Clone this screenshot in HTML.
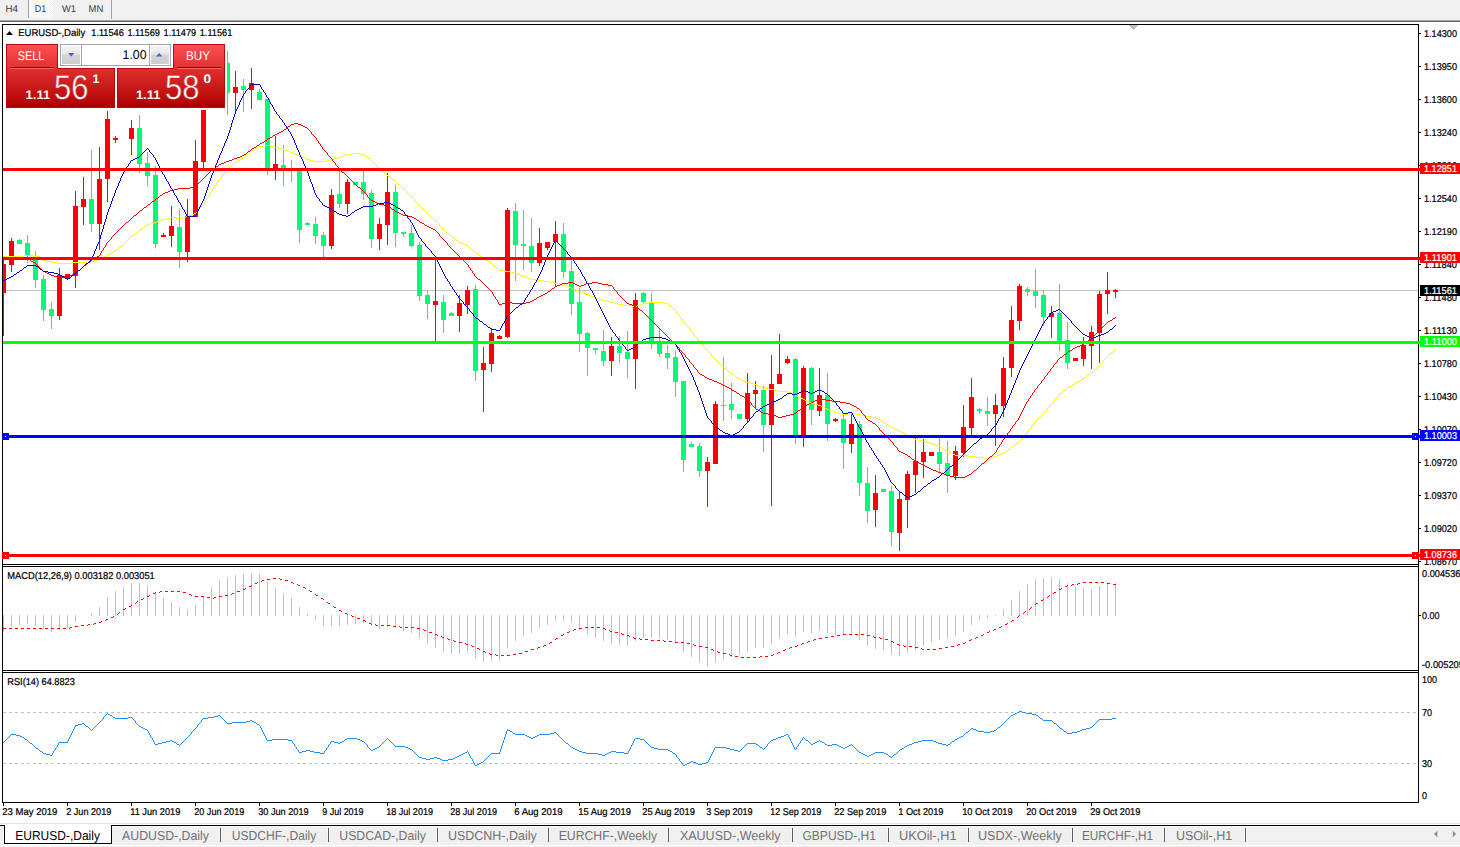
<!DOCTYPE html>
<html><head><meta charset="utf-8"><title>EURUSD-,Daily</title>
<style>html,body{margin:0;padding:0;background:#fff;width:1460px;height:847px;overflow:hidden}svg text{white-space:pre;text-rendering:geometricPrecision}</style></head>
<body>
<svg width="1460" height="847" viewBox="0 0 1460 847" font-family="Liberation Sans, sans-serif" style="display:block">
<defs>
<linearGradient id="gTop" x1="0" y1="0" x2="0" y2="1"><stop offset="0" stop-color="#fb5050"/><stop offset="1" stop-color="#e13030"/></linearGradient>
<linearGradient id="gBot" gradientUnits="userSpaceOnUse" x1="0" y1="69" x2="0" y2="107"><stop offset="0" stop-color="#df2e2e"/><stop offset="0.85" stop-color="#b80808"/><stop offset="1" stop-color="#a80000"/></linearGradient>
<linearGradient id="gBtn" x1="0" y1="0" x2="0" y2="1"><stop offset="0" stop-color="#f4f4f4"/><stop offset="0.45" stop-color="#e6e6e6"/><stop offset="0.5" stop-color="#d4d4d4"/><stop offset="1" stop-color="#cdcdcd"/></linearGradient>
<pattern id="chk" width="2" height="2" patternUnits="userSpaceOnUse"><rect width="2" height="2" fill="#fff"/><rect width="1" height="1" fill="#f0f0f0"/><rect x="1" y="1" width="1" height="1" fill="#f0f0f0"/></pattern>
</defs>
<rect x="0" y="0" width="1460" height="847" fill="#fff" />
<rect x="0" y="0" width="1460" height="19" fill="#f0f0f0" />
<rect x="0" y="19" width="1460" height="1" fill="#f5f5f5" />
<rect x="0" y="20" width="1460" height="1" fill="#a0a0a0" />
<rect x="0" y="21" width="1460" height="1" fill="#696969" />
<rect x="29" y="0" width="24" height="18" fill="url(#chk)" />
<rect x="28" y="0" width="1" height="18" fill="#a0a0a0" />
<rect x="111" y="0" width="1" height="19" fill="#a0a0a0" />
<text x="5.5" y="12" font-size="9.9" fill="#3c3c3c" textLength="12.5" lengthAdjust="spacingAndGlyphs" stroke="none">H4</text>
<text x="34.7" y="12" font-size="9.9" fill="#3c3c3c" textLength="11.5" lengthAdjust="spacingAndGlyphs" stroke="none">D1</text>
<text x="62" y="12" font-size="9.9" fill="#3c3c3c" textLength="14" lengthAdjust="spacingAndGlyphs" stroke="none">W1</text>
<text x="88.5" y="12" font-size="9.9" fill="#3c3c3c" textLength="14.8" lengthAdjust="spacingAndGlyphs" stroke="none">MN</text>
<g shape-rendering="crispEdges">
<rect x="3" y="290" width="1415" height="1" fill="#c0c0c0" />
<rect x="3" y="260" width="1" height="76" fill="#ff0000" />
<rect x="1" y="264" width="5" height="29" fill="#ff0000" />
<rect x="11" y="238" width="1" height="34" fill="#ff0000" />
<rect x="9" y="241" width="5" height="24" fill="#ff0000" />
<rect x="19" y="239" width="1" height="5" fill="#00fa7d" />
<rect x="17" y="240" width="5" height="4" fill="#00fa7d" />
<rect x="27" y="235" width="1" height="28" fill="#00fa7d" />
<rect x="25" y="243" width="5" height="12" fill="#00fa7d" />
<rect x="35" y="251" width="1" height="37" fill="#00fa7d" />
<rect x="33" y="260" width="5" height="20" fill="#00fa7d" />
<rect x="43" y="275" width="1" height="46" fill="#00fa7d" />
<rect x="41" y="279" width="5" height="31" fill="#00fa7d" />
<rect x="51" y="302" width="1" height="27" fill="#00fa7d" />
<rect x="49" y="309" width="5" height="7" fill="#00fa7d" />
<rect x="59" y="268" width="1" height="52" fill="#ff0000" />
<rect x="57" y="275" width="5" height="41" fill="#ff0000" />
<rect x="67" y="274" width="1" height="5" fill="#ff0000" />
<rect x="65" y="274" width="5" height="5" fill="#ff0000" />
<rect x="75" y="191" width="1" height="97" fill="#ff0000" />
<rect x="73" y="206" width="5" height="70" fill="#ff0000" />
<rect x="83" y="177" width="1" height="48" fill="#ff0000" />
<rect x="81" y="199" width="5" height="8" fill="#ff0000" />
<rect x="91" y="150" width="1" height="82" fill="#00fa7d" />
<rect x="89" y="199" width="5" height="25" fill="#00fa7d" />
<rect x="99" y="147" width="1" height="103" fill="#ff0000" />
<rect x="97" y="179" width="5" height="45" fill="#ff0000" />
<rect x="107" y="111" width="1" height="91" fill="#ff0000" />
<rect x="105" y="119" width="5" height="60" fill="#ff0000" />
<rect x="115" y="136" width="1" height="7" fill="#ff0000" />
<rect x="113" y="138" width="5" height="2" fill="#ff0000" />
<rect x="131" y="120" width="1" height="35" fill="#ff0000" />
<rect x="129" y="128" width="5" height="11" fill="#ff0000" />
<rect x="139" y="115" width="1" height="58" fill="#00fa7d" />
<rect x="137" y="128" width="5" height="36" fill="#00fa7d" />
<rect x="147" y="152" width="1" height="34" fill="#00fa7d" />
<rect x="145" y="163" width="5" height="13" fill="#00fa7d" />
<rect x="155" y="166" width="1" height="82" fill="#00fa7d" />
<rect x="153" y="175" width="5" height="69" fill="#00fa7d" />
<rect x="163" y="233" width="1" height="4" fill="#ff0000" />
<rect x="161" y="235" width="5" height="2" fill="#ff0000" />
<rect x="171" y="206" width="1" height="41" fill="#ff0000" />
<rect x="169" y="226" width="5" height="10" fill="#ff0000" />
<rect x="179" y="209" width="1" height="59" fill="#00fa7d" />
<rect x="177" y="227" width="5" height="25" fill="#00fa7d" />
<rect x="187" y="199" width="1" height="63" fill="#ff0000" />
<rect x="185" y="216" width="5" height="36" fill="#ff0000" />
<rect x="195" y="140" width="1" height="77" fill="#ff0000" />
<rect x="193" y="161" width="5" height="56" fill="#ff0000" />
<rect x="203" y="110" width="1" height="61" fill="#ff0000" />
<rect x="201" y="110" width="5" height="52" fill="#ff0000" />
<rect x="227" y="51" width="1" height="64" fill="#00fa7d" />
<rect x="225" y="63" width="5" height="30" fill="#00fa7d" />
<rect x="235" y="71" width="1" height="40" fill="#ff0000" />
<rect x="233" y="87" width="5" height="6" fill="#ff0000" />
<rect x="243" y="79" width="1" height="33" fill="#00fa7d" />
<rect x="241" y="86" width="5" height="4" fill="#00fa7d" />
<rect x="251" y="68" width="1" height="41" fill="#ff0000" />
<rect x="249" y="83" width="5" height="7" fill="#ff0000" />
<rect x="259" y="89" width="1" height="11" fill="#00fa7d" />
<rect x="257" y="92" width="5" height="8" fill="#00fa7d" />
<rect x="267" y="99" width="1" height="76" fill="#00fa7d" />
<rect x="265" y="99" width="5" height="71" fill="#00fa7d" />
<rect x="275" y="136" width="1" height="44" fill="#ff0000" />
<rect x="273" y="164" width="5" height="6" fill="#ff0000" />
<rect x="283" y="145" width="1" height="41" fill="#00fa7d" />
<rect x="281" y="165" width="5" height="5" fill="#00fa7d" />
<rect x="291" y="160" width="1" height="22" fill="#00fa7d" />
<rect x="289" y="168" width="5" height="2" fill="#00fa7d" />
<rect x="299" y="168" width="1" height="75" fill="#00fa7d" />
<rect x="297" y="168" width="5" height="62" fill="#00fa7d" />
<rect x="307" y="222" width="1" height="3" fill="#00fa7d" />
<rect x="305" y="223" width="5" height="2" fill="#00fa7d" />
<rect x="315" y="217" width="1" height="27" fill="#00fa7d" />
<rect x="313" y="224" width="5" height="12" fill="#00fa7d" />
<rect x="323" y="232" width="1" height="25" fill="#00fa7d" />
<rect x="321" y="235" width="5" height="11" fill="#00fa7d" />
<rect x="331" y="189" width="1" height="60" fill="#ff0000" />
<rect x="329" y="195" width="5" height="51" fill="#ff0000" />
<rect x="339" y="171" width="1" height="37" fill="#00fa7d" />
<rect x="337" y="194" width="5" height="10" fill="#00fa7d" />
<rect x="347" y="179" width="1" height="35" fill="#ff0000" />
<rect x="345" y="182" width="5" height="22" fill="#ff0000" />
<rect x="355" y="182" width="1" height="3" fill="#00fa7d" />
<rect x="353" y="182" width="5" height="3" fill="#00fa7d" />
<rect x="363" y="171" width="1" height="29" fill="#00fa7d" />
<rect x="361" y="182" width="5" height="12" fill="#00fa7d" />
<rect x="371" y="190" width="1" height="58" fill="#00fa7d" />
<rect x="369" y="193" width="5" height="46" fill="#00fa7d" />
<rect x="379" y="218" width="1" height="32" fill="#ff0000" />
<rect x="377" y="224" width="5" height="15" fill="#ff0000" />
<rect x="387" y="173" width="1" height="72" fill="#ff0000" />
<rect x="385" y="192" width="5" height="33" fill="#ff0000" />
<rect x="395" y="185" width="1" height="62" fill="#00fa7d" />
<rect x="393" y="192" width="5" height="41" fill="#00fa7d" />
<rect x="403" y="232" width="1" height="5" fill="#00fa7d" />
<rect x="401" y="232" width="5" height="2" fill="#00fa7d" />
<rect x="411" y="225" width="1" height="22" fill="#00fa7d" />
<rect x="409" y="233" width="5" height="13" fill="#00fa7d" />
<rect x="419" y="242" width="1" height="59" fill="#00fa7d" />
<rect x="417" y="245" width="5" height="51" fill="#00fa7d" />
<rect x="427" y="291" width="1" height="28" fill="#00fa7d" />
<rect x="425" y="295" width="5" height="9" fill="#00fa7d" />
<rect x="435" y="259" width="1" height="82" fill="#ff0000" />
<rect x="433" y="301" width="5" height="4" fill="#ff0000" />
<rect x="443" y="295" width="1" height="38" fill="#00fa7d" />
<rect x="441" y="302" width="5" height="18" fill="#00fa7d" />
<rect x="451" y="312" width="1" height="4" fill="#00fa7d" />
<rect x="449" y="313" width="5" height="3" fill="#00fa7d" />
<rect x="459" y="295" width="1" height="37" fill="#ff0000" />
<rect x="457" y="303" width="5" height="13" fill="#ff0000" />
<rect x="467" y="286" width="1" height="28" fill="#ff0000" />
<rect x="465" y="290" width="5" height="15" fill="#ff0000" />
<rect x="475" y="285" width="1" height="96" fill="#00fa7d" />
<rect x="473" y="289" width="5" height="82" fill="#00fa7d" />
<rect x="483" y="347" width="1" height="65" fill="#ff0000" />
<rect x="481" y="363" width="5" height="7" fill="#ff0000" />
<rect x="491" y="328" width="1" height="44" fill="#ff0000" />
<rect x="489" y="333" width="5" height="31" fill="#ff0000" />
<rect x="499" y="335" width="1" height="4" fill="#ff0000" />
<rect x="497" y="336" width="5" height="3" fill="#ff0000" />
<rect x="507" y="208" width="1" height="130" fill="#ff0000" />
<rect x="505" y="210" width="5" height="127" fill="#ff0000" />
<rect x="515" y="203" width="1" height="78" fill="#00fa7d" />
<rect x="513" y="211" width="5" height="34" fill="#00fa7d" />
<rect x="523" y="210" width="1" height="60" fill="#00fa7d" />
<rect x="521" y="244" width="5" height="2" fill="#00fa7d" />
<rect x="531" y="218" width="1" height="54" fill="#00fa7d" />
<rect x="529" y="246" width="5" height="17" fill="#00fa7d" />
<rect x="539" y="228" width="1" height="38" fill="#ff0000" />
<rect x="537" y="243" width="5" height="20" fill="#ff0000" />
<rect x="547" y="242" width="1" height="8" fill="#ff0000" />
<rect x="545" y="242" width="5" height="6" fill="#ff0000" />
<rect x="555" y="221" width="1" height="65" fill="#ff0000" />
<rect x="553" y="234" width="5" height="8" fill="#ff0000" />
<rect x="563" y="223" width="1" height="55" fill="#00fa7d" />
<rect x="561" y="234" width="5" height="38" fill="#00fa7d" />
<rect x="571" y="259" width="1" height="56" fill="#00fa7d" />
<rect x="569" y="271" width="5" height="33" fill="#00fa7d" />
<rect x="579" y="288" width="1" height="64" fill="#00fa7d" />
<rect x="577" y="302" width="5" height="32" fill="#00fa7d" />
<rect x="587" y="332" width="1" height="44" fill="#00fa7d" />
<rect x="585" y="333" width="5" height="15" fill="#00fa7d" />
<rect x="595" y="348" width="1" height="6" fill="#00fa7d" />
<rect x="593" y="348" width="5" height="2" fill="#00fa7d" />
<rect x="603" y="330" width="1" height="36" fill="#00fa7d" />
<rect x="601" y="351" width="5" height="10" fill="#00fa7d" />
<rect x="611" y="337" width="1" height="39" fill="#ff0000" />
<rect x="609" y="346" width="5" height="15" fill="#ff0000" />
<rect x="619" y="336" width="1" height="27" fill="#00fa7d" />
<rect x="617" y="346" width="5" height="7" fill="#00fa7d" />
<rect x="627" y="331" width="1" height="47" fill="#00fa7d" />
<rect x="625" y="352" width="5" height="7" fill="#00fa7d" />
<rect x="635" y="293" width="1" height="96" fill="#ff0000" />
<rect x="633" y="300" width="5" height="59" fill="#ff0000" />
<rect x="643" y="292" width="1" height="12" fill="#00fa7d" />
<rect x="641" y="293" width="5" height="9" fill="#00fa7d" />
<rect x="651" y="293" width="1" height="56" fill="#00fa7d" />
<rect x="649" y="303" width="5" height="40" fill="#00fa7d" />
<rect x="659" y="329" width="1" height="28" fill="#00fa7d" />
<rect x="657" y="341" width="5" height="13" fill="#00fa7d" />
<rect x="667" y="345" width="1" height="24" fill="#00fa7d" />
<rect x="665" y="353" width="5" height="5" fill="#00fa7d" />
<rect x="675" y="350" width="1" height="47" fill="#00fa7d" />
<rect x="673" y="357" width="5" height="25" fill="#00fa7d" />
<rect x="683" y="381" width="1" height="91" fill="#00fa7d" />
<rect x="681" y="381" width="5" height="79" fill="#00fa7d" />
<rect x="691" y="442" width="1" height="5" fill="#00fa7d" />
<rect x="689" y="444" width="5" height="3" fill="#00fa7d" />
<rect x="699" y="443" width="1" height="34" fill="#00fa7d" />
<rect x="697" y="446" width="5" height="25" fill="#00fa7d" />
<rect x="707" y="457" width="1" height="50" fill="#ff0000" />
<rect x="705" y="462" width="5" height="9" fill="#ff0000" />
<rect x="715" y="401" width="1" height="63" fill="#ff0000" />
<rect x="713" y="404" width="5" height="60" fill="#ff0000" />
<rect x="723" y="357" width="1" height="64" fill="#00fa7d" />
<rect x="721" y="405" width="5" height="1" fill="#00fa7d" />
<rect x="731" y="383" width="1" height="36" fill="#00fa7d" />
<rect x="729" y="404" width="5" height="6" fill="#00fa7d" />
<rect x="739" y="414" width="1" height="5" fill="#00fa7d" />
<rect x="737" y="414" width="5" height="5" fill="#00fa7d" />
<rect x="747" y="373" width="1" height="50" fill="#ff0000" />
<rect x="745" y="393" width="5" height="26" fill="#ff0000" />
<rect x="755" y="381" width="1" height="27" fill="#ff0000" />
<rect x="753" y="390" width="5" height="4" fill="#ff0000" />
<rect x="763" y="386" width="1" height="66" fill="#00fa7d" />
<rect x="761" y="390" width="5" height="35" fill="#00fa7d" />
<rect x="771" y="355" width="1" height="151" fill="#ff0000" />
<rect x="769" y="384" width="5" height="41" fill="#ff0000" />
<rect x="779" y="334" width="1" height="50" fill="#ff0000" />
<rect x="777" y="374" width="5" height="10" fill="#ff0000" />
<rect x="787" y="356" width="1" height="8" fill="#ff0000" />
<rect x="785" y="359" width="5" height="4" fill="#ff0000" />
<rect x="795" y="358" width="1" height="86" fill="#00fa7d" />
<rect x="793" y="359" width="5" height="78" fill="#00fa7d" />
<rect x="803" y="366" width="1" height="81" fill="#ff0000" />
<rect x="801" y="368" width="5" height="69" fill="#ff0000" />
<rect x="811" y="367" width="1" height="58" fill="#00fa7d" />
<rect x="809" y="368" width="5" height="42" fill="#00fa7d" />
<rect x="819" y="368" width="1" height="48" fill="#ff0000" />
<rect x="817" y="395" width="5" height="16" fill="#ff0000" />
<rect x="827" y="373" width="1" height="68" fill="#00fa7d" />
<rect x="825" y="395" width="5" height="29" fill="#00fa7d" />
<rect x="835" y="418" width="1" height="4" fill="#ff0000" />
<rect x="833" y="419" width="5" height="2" fill="#ff0000" />
<rect x="843" y="415" width="1" height="54" fill="#00fa7d" />
<rect x="841" y="419" width="5" height="24" fill="#00fa7d" />
<rect x="851" y="413" width="1" height="40" fill="#ff0000" />
<rect x="849" y="424" width="5" height="20" fill="#ff0000" />
<rect x="859" y="421" width="1" height="75" fill="#00fa7d" />
<rect x="857" y="424" width="5" height="59" fill="#00fa7d" />
<rect x="867" y="467" width="1" height="56" fill="#00fa7d" />
<rect x="865" y="483" width="5" height="28" fill="#00fa7d" />
<rect x="875" y="475" width="1" height="52" fill="#ff0000" />
<rect x="873" y="493" width="5" height="17" fill="#ff0000" />
<rect x="883" y="489" width="1" height="3" fill="#00fa7d" />
<rect x="881" y="489" width="5" height="3" fill="#00fa7d" />
<rect x="891" y="486" width="1" height="60" fill="#00fa7d" />
<rect x="889" y="491" width="5" height="41" fill="#00fa7d" />
<rect x="899" y="491" width="1" height="60" fill="#ff0000" />
<rect x="897" y="499" width="5" height="34" fill="#ff0000" />
<rect x="907" y="471" width="1" height="57" fill="#ff0000" />
<rect x="905" y="474" width="5" height="26" fill="#ff0000" />
<rect x="915" y="435" width="1" height="58" fill="#ff0000" />
<rect x="913" y="461" width="5" height="14" fill="#ff0000" />
<rect x="923" y="439" width="1" height="39" fill="#ff0000" />
<rect x="921" y="452" width="5" height="10" fill="#ff0000" />
<rect x="931" y="452" width="1" height="4" fill="#ff0000" />
<rect x="929" y="452" width="5" height="4" fill="#ff0000" />
<rect x="939" y="435" width="1" height="38" fill="#00fa7d" />
<rect x="937" y="452" width="5" height="12" fill="#00fa7d" />
<rect x="947" y="441" width="1" height="52" fill="#00fa7d" />
<rect x="945" y="463" width="5" height="12" fill="#00fa7d" />
<rect x="955" y="446" width="1" height="34" fill="#ff0000" />
<rect x="953" y="451" width="5" height="25" fill="#ff0000" />
<rect x="963" y="405" width="1" height="52" fill="#ff0000" />
<rect x="961" y="427" width="5" height="26" fill="#ff0000" />
<rect x="971" y="378" width="1" height="57" fill="#ff0000" />
<rect x="969" y="397" width="5" height="31" fill="#ff0000" />
<rect x="979" y="408" width="1" height="6" fill="#00fa7d" />
<rect x="977" y="409" width="5" height="2" fill="#00fa7d" />
<rect x="987" y="397" width="1" height="29" fill="#00fa7d" />
<rect x="985" y="411" width="5" height="3" fill="#00fa7d" />
<rect x="995" y="394" width="1" height="52" fill="#ff0000" />
<rect x="993" y="405" width="5" height="9" fill="#ff0000" />
<rect x="1003" y="357" width="1" height="60" fill="#ff0000" />
<rect x="1001" y="368" width="5" height="38" fill="#ff0000" />
<rect x="1011" y="306" width="1" height="71" fill="#ff0000" />
<rect x="1009" y="320" width="5" height="48" fill="#ff0000" />
<rect x="1019" y="284" width="1" height="46" fill="#ff0000" />
<rect x="1017" y="286" width="5" height="35" fill="#ff0000" />
<rect x="1027" y="287" width="1" height="9" fill="#00fa7d" />
<rect x="1025" y="289" width="5" height="3" fill="#00fa7d" />
<rect x="1035" y="269" width="1" height="39" fill="#00fa7d" />
<rect x="1033" y="291" width="5" height="5" fill="#00fa7d" />
<rect x="1043" y="290" width="1" height="36" fill="#00fa7d" />
<rect x="1041" y="295" width="5" height="22" fill="#00fa7d" />
<rect x="1051" y="306" width="1" height="32" fill="#ff0000" />
<rect x="1049" y="313" width="5" height="4" fill="#ff0000" />
<rect x="1059" y="284" width="1" height="67" fill="#00fa7d" />
<rect x="1057" y="313" width="5" height="30" fill="#00fa7d" />
<rect x="1067" y="322" width="1" height="47" fill="#00fa7d" />
<rect x="1065" y="340" width="5" height="23" fill="#00fa7d" />
<rect x="1075" y="358" width="1" height="3" fill="#ff0000" />
<rect x="1073" y="358" width="5" height="3" fill="#ff0000" />
<rect x="1083" y="337" width="1" height="29" fill="#ff0000" />
<rect x="1081" y="345" width="5" height="14" fill="#ff0000" />
<rect x="1091" y="326" width="1" height="43" fill="#ff0000" />
<rect x="1089" y="332" width="5" height="14" fill="#ff0000" />
<rect x="1099" y="291" width="1" height="72" fill="#ff0000" />
<rect x="1097" y="294" width="5" height="39" fill="#ff0000" />
<rect x="1107" y="272" width="1" height="42" fill="#ff0000" />
<rect x="1105" y="290" width="5" height="4" fill="#ff0000" />
<rect x="1115" y="289" width="1" height="9" fill="#ff0000" />
<rect x="1113" y="290" width="5" height="2" fill="#ff0000" />
<path d="M3 256.5h21M24 255.5h9M33 256.5h7M40 257.5h1M41 258.5h1M42 259.5h1M43 260.5h3M46 261.5h5M51 262.5h6M57 263.5h15M72 262.5h16M88 261.5h6M94 260.5h4M98 259.5h3M101 258.5h2M103 257.5h2M105 256.5h2M107 255.5h1M108 254.5h2M110 253.5h2M112 252.5h1M113 251.5h2M115 250.5h1M116 249.5h2M118 248.5h1M119 247.5h1M120 246.5h2M122 245.5h1M123 244.5h1M124 243.5h1M125 242.5h1M126 241.5h1M127 240.5h1M128 239.5h1M129 238.5h1M130 237.5h1M131 236.5h1M132 235.5h2M134 234.5h1M135 233.5h1M136 232.5h2M138 231.5h1M139 230.5h1M140 229.5h2M142 228.5h1M143 227.5h1M144 226.5h2M146 225.5h1M147 224.5h3M150 223.5h4M154 222.5h3M157 221.5h3M160 220.5h2M162 219.5h4M166 218.5h4M170 217.5h6M176 218.5h6M182 217.5h4M186 216.5h3M189 215.5h3M192 214.5h2M194 213.5h2M196 212.5h1M197 211.5h1M198 210.5h1M199.5 208v2M200 207.5h1M201 206.5h1M202 205.5h1M203 204.5h1M204.5 202v2M205.5 200v2M206 199.5h1M207.5 197v2M208 196.5h1M209.5 194v2M210.5 192v2M211 191.5h1M212.5 189v2M213 188.5h1M214.5 186v2M215 185.5h1M216.5 183v2M217 182.5h1M218.5 180v2M219 179.5h1M220 178.5h1M221.5 176v2M222 175.5h1M223 174.5h1M224 173.5h1M225.5 171v2M226 170.5h1M227 169.5h1M228 168.5h1M229 167.5h1M230 166.5h2M232 165.5h1M233 164.5h1M234 163.5h1M235 162.5h1M236 161.5h2M238 160.5h2M240 159.5h1M241 158.5h2M243 157.5h1M244 156.5h1M245 155.5h1M246 154.5h2M248 153.5h1M249 152.5h1M250 151.5h1M251 150.5h2M253 149.5h2M255 148.5h2M257 147.5h2M259 146.5h5M264 145.5h6M270 146.5h4M274 147.5h4M278 148.5h4M282 149.5h3M285 150.5h3M288 151.5h2M290 152.5h3M293 153.5h2M295 154.5h2M297 155.5h2M299 156.5h2M301 157.5h3M304 158.5h2M306 159.5h4M310 160.5h4M314 161.5h12M326 160.5h4M330 159.5h4M334 158.5h4M338 157.5h3M341 156.5h3M344 155.5h2M346 154.5h6M352 153.5h8M360 154.5h4M364 155.5h2M366 156.5h1M367 157.5h1M368 158.5h2M370 159.5h1M371 160.5h1M372 161.5h1M373 162.5h1M374 163.5h1M375 164.5h1M376 165.5h1M377 166.5h1M378 167.5h1M379 168.5h1M380 169.5h1M381 170.5h1M382 171.5h2M384 172.5h1M385 173.5h1M386 174.5h1M387 175.5h1M388 176.5h2M390 177.5h1M391 178.5h1M392 179.5h2M394 180.5h1M395 181.5h1M396 182.5h1M397 183.5h1M398 184.5h2M400 185.5h1M401 186.5h1M402 187.5h1M403 188.5h1M404 189.5h1M405 190.5h1M406 191.5h1M407 192.5h1M408 193.5h1M409 194.5h1M410 195.5h1M411 196.5h1M412 197.5h1M413 198.5h1M414 199.5h1M415.5 200v2M416 202.5h1M417 203.5h1M418 204.5h1M419 205.5h1M420 206.5h1M421 207.5h1M422 208.5h1M423 209.5h1M424 210.5h1M425 211.5h1M426 212.5h1M427 213.5h1M428 214.5h1M429 215.5h1M430 216.5h2M432 217.5h1M433 218.5h1M434 219.5h1M435 220.5h1M436 221.5h1M437 222.5h1M438 223.5h1M439.5 224v2M440 226.5h1M441 227.5h1M442 228.5h1M443 229.5h1M444 230.5h1M445 231.5h1M446 232.5h2M448 233.5h1M449 234.5h1M450 235.5h1M451 236.5h1M452 237.5h2M454 238.5h1M455 239.5h1M456 240.5h2M458 241.5h1M459 242.5h2M461 243.5h3M464 244.5h2M466 245.5h2M468 246.5h1M469 247.5h1M470 248.5h2M472 249.5h1M473 250.5h1M474 251.5h1M475 252.5h1M476 253.5h2M478 254.5h1M479 255.5h1M480 256.5h2M482 257.5h1M483 258.5h1M484 259.5h2M486 260.5h2M488 261.5h1M489 262.5h2M491 263.5h1M492 264.5h1M493 265.5h1M494 266.5h2M496 267.5h1M497 268.5h1M498 269.5h1M499 270.5h5M504 271.5h6M510 272.5h4M514 273.5h3M517 274.5h3M520 275.5h2M522 276.5h3M525 277.5h3M528 278.5h2M530 279.5h6M536 280.5h8M544 281.5h6M550 282.5h4M554 283.5h6M560 284.5h5M565 285.5h2M567 286.5h2M569 287.5h2M571 288.5h2M573 289.5h3M576 290.5h2M578 291.5h3M581 292.5h3M584 293.5h2M586 294.5h3M589 295.5h2M591 296.5h2M593 297.5h2M595 298.5h3M598 299.5h4M602 300.5h4M606 301.5h4M610 302.5h4M614 303.5h4M618 304.5h6M624 305.5h8M632 306.5h5M637 305.5h3M640 304.5h2M642 303.5h6M648 302.5h16M664 303.5h4M668 304.5h1M669 305.5h1M670 306.5h2M672 307.5h1M673 308.5h1M674 309.5h1M675 310.5h1M676.5 311v2M677 313.5h1M678 314.5h1M679.5 315v2M680 317.5h1M681 318.5h1M682.5 319v2M683 321.5h1M684 322.5h1M685.5 323v2M686 325.5h1M687 326.5h1M688 327.5h1M689.5 328v2M690 330.5h1M691 331.5h1M692 332.5h1M693.5 333v2M694 335.5h1M695 336.5h1M696 337.5h1M697.5 338v2M698 340.5h1M699 341.5h1M700 342.5h1M701 343.5h1M702 344.5h1M703.5 345v2M704 347.5h1M705 348.5h1M706 349.5h1M707 350.5h1M708 351.5h1M709 352.5h1M710 353.5h1M711.5 354v2M712 356.5h1M713 357.5h1M714 358.5h1M715 359.5h1M716 360.5h1M717 361.5h1M718 362.5h1M719 363.5h1M720 364.5h1M721 365.5h1M722 366.5h1M723 367.5h1M724 368.5h2M726 369.5h1M727 370.5h1M728 371.5h2M730 372.5h1M731 373.5h1M732 374.5h2M734 375.5h1M735 376.5h1M736 377.5h2M738 378.5h1M739 379.5h2M741 380.5h3M744 381.5h2M746 382.5h4M750 383.5h4M754 384.5h3M757 385.5h2M759 386.5h2M761 387.5h2M763 388.5h5M768 389.5h6M774 390.5h4M778 391.5h11M789 392.5h2M791 393.5h2M793 394.5h2M795 395.5h2M797 396.5h2M799 397.5h2M801 398.5h2M803 399.5h2M805 400.5h2M807 401.5h2M809 402.5h2M811 403.5h3M814 404.5h4M818 405.5h3M821 406.5h2M823 407.5h2M825 408.5h2M827 409.5h2M829 410.5h3M832 411.5h2M834 412.5h4M838 413.5h4M842 414.5h6M848 413.5h8M856 414.5h6M862 415.5h4M866 416.5h6M872 417.5h4M876 418.5h2M878 419.5h2M880 420.5h1M881 421.5h2M883 422.5h1M884 423.5h2M886 424.5h2M888 425.5h1M889 426.5h2M891 427.5h2M893 428.5h2M895 429.5h2M897 430.5h2M899 431.5h2M901 432.5h2M903 433.5h2M905 434.5h2M907 435.5h2M909 436.5h2M911 437.5h2M913 438.5h2M915 439.5h3M918 440.5h4M922 441.5h4M926 442.5h4M930 443.5h3M933 444.5h3M936 445.5h2M938 446.5h2M940 447.5h2M942 448.5h2M944 449.5h1M945 450.5h2M947 451.5h2M949 452.5h2M951 453.5h2M953 454.5h2M955 455.5h13M968 456.5h8M976 457.5h8M984 458.5h6M990 457.5h4M994 456.5h3M997 455.5h3M1000 454.5h2M1002 453.5h2M1004 452.5h2M1006 451.5h1M1007 450.5h1M1008 449.5h2M1010 448.5h1M1011 447.5h1M1012 446.5h2M1014 445.5h1M1015 444.5h1M1016 443.5h2M1018 442.5h1M1019 441.5h1M1020 440.5h1M1021 439.5h1M1022 438.5h1M1023.5 436v2M1024 435.5h1M1025 434.5h1M1026 433.5h1M1027 432.5h1M1028.5 430v2M1029 429.5h1M1030 428.5h1M1031.5 426v2M1032 425.5h1M1033 424.5h1M1034.5 422v2M1035 421.5h1M1036 420.5h1M1037 419.5h1M1038 418.5h1M1039 417.5h1M1040 416.5h1M1041 415.5h1M1042 414.5h1M1043 413.5h1M1044 412.5h1M1045 411.5h1M1046 410.5h1M1047.5 408v2M1048 407.5h1M1049 406.5h1M1050 405.5h1M1051 404.5h1M1052 403.5h1M1053.5 401v2M1054 400.5h1M1055 399.5h1M1056 398.5h1M1057.5 396v2M1058 395.5h1M1059 394.5h1M1060 393.5h2M1062 392.5h1M1063 391.5h1M1064 390.5h2M1066 389.5h1M1067 388.5h1M1068 387.5h2M1070 386.5h2M1072 385.5h1M1073 384.5h2M1075 383.5h1M1076 382.5h2M1078 381.5h2M1080 380.5h1M1081 379.5h2M1083 378.5h1M1084 377.5h2M1086 376.5h1M1087 375.5h1M1088 374.5h2M1090 373.5h1M1091 372.5h1M1092 371.5h1M1093 370.5h1M1094 369.5h2M1096 368.5h1M1097 367.5h1M1098 366.5h1M1099 365.5h1M1100 364.5h1M1101 363.5h1M1102 362.5h1M1103.5 360v2M1104 359.5h1M1105 358.5h1M1106 357.5h1M1107 356.5h1M1108 355.5h1M1109 354.5h1M1110 353.5h2M1112 352.5h1M1113 351.5h1M1114 350.5h1M1115 349.5h1" fill="none" stroke="#ffff00" stroke-width="1"/>
<path d="M3 258.5h25M28 259.5h2M30 260.5h1M31 261.5h2M33 262.5h2M35 263.5h1M36 264.5h1M37 265.5h1M38 266.5h1M39 267.5h1M40 268.5h1M41 269.5h1M42 270.5h1M43 271.5h2M45 272.5h2M47 273.5h2M49 274.5h2M51 275.5h3M54 276.5h4M58 277.5h6M64 276.5h5M69 275.5h3M72 274.5h2M74 273.5h2M76 272.5h1M77 271.5h1M78 270.5h2M80 269.5h1M81 268.5h1M82 267.5h1M83 266.5h1M84 265.5h2M86 264.5h1M87 263.5h1M88 262.5h2M90 261.5h1M91 260.5h1M92 259.5h2M94 258.5h2M96 257.5h1M97 256.5h2M99 255.5h1M100.5 253v2M101.5 251v2M102 250.5h1M103.5 248v2M104 247.5h1M105.5 245v2M106.5 243v2M107 242.5h1M108 241.5h1M109 240.5h1M110 239.5h1M111.5 237v2M112 236.5h1M113 235.5h1M114 234.5h1M115 233.5h1M116 232.5h1M117 231.5h1M118 230.5h1M119 229.5h1M120 228.5h1M121 227.5h1M122 226.5h1M123 225.5h1M124 224.5h1M125 223.5h1M126 222.5h2M128 221.5h1M129 220.5h1M130 219.5h1M131 218.5h1M132 217.5h1M133 216.5h1M134 215.5h2M136 214.5h1M137 213.5h1M138 212.5h1M139 211.5h1M140 210.5h2M142 209.5h1M143 208.5h1M144 207.5h2M146 206.5h1M147 205.5h1M148 204.5h2M150 203.5h1M151 202.5h1M152 201.5h2M154 200.5h1M155 199.5h1M156 198.5h2M158 197.5h1M159 196.5h1M160 195.5h2M162 194.5h1M163 193.5h2M165 192.5h3M168 191.5h2M170 190.5h4M174 189.5h4M178 188.5h12M190 187.5h4M194 186.5h2M196 185.5h1M197 184.5h1M198 183.5h1M199 182.5h1M200 181.5h1M201 180.5h1M202 179.5h1M203 178.5h1M204 177.5h1M205 176.5h1M206 175.5h1M207 174.5h1M208 173.5h1M209 172.5h1M210 171.5h1M211 170.5h1M212 169.5h2M214 168.5h1M215 167.5h1M216 166.5h2M218 165.5h1M219 164.5h2M221 163.5h3M224 162.5h2M226 161.5h3M229 160.5h3M232 159.5h2M234 158.5h3M237 157.5h3M240 156.5h2M242 155.5h2M244 154.5h2M246 153.5h1M247 152.5h1M248 151.5h2M250 150.5h1M251 149.5h1M252 148.5h2M254 147.5h2M256 146.5h1M257 145.5h2M259 144.5h1M260 143.5h2M262 142.5h2M264 141.5h1M265 140.5h2M267 139.5h1M268 138.5h2M270 137.5h2M272 136.5h1M273 135.5h2M275 134.5h2M277 133.5h2M279 132.5h2M281 131.5h2M283 130.5h1M284 129.5h2M286 128.5h1M287 127.5h1M288 126.5h2M290 125.5h1M291 124.5h3M294 123.5h4M298 124.5h3M301 125.5h2M303 126.5h2M305 127.5h2M307 128.5h1M308 129.5h1M309 130.5h1M310 131.5h1M311.5 132v2M312 134.5h1M313 135.5h1M314 136.5h1M315 137.5h1M316.5 138v2M317 140.5h1M318.5 141v2M319 143.5h1M320.5 144v2M321 146.5h1M322.5 147v2M323 149.5h1M324 150.5h1M325 151.5h1M326 152.5h1M327.5 153v2M328 155.5h1M329 156.5h1M330 157.5h1M331 158.5h1M332.5 159v2M333 161.5h1M334 162.5h1M335.5 163v2M336 165.5h1M337 166.5h1M338.5 167v2M339 169.5h1M340 170.5h1M341 171.5h1M342 172.5h2M344 173.5h1M345 174.5h1M346 175.5h1M347 176.5h1M348 177.5h1M349 178.5h1M350 179.5h1M351 180.5h1M352 181.5h1M353 182.5h1M354 183.5h1M355 184.5h1M356 185.5h1M357 186.5h1M358 187.5h2M360 188.5h1M361 189.5h1M362 190.5h1M363 191.5h1M364 192.5h1M365 193.5h1M366 194.5h1M367.5 195v2M368 197.5h1M369 198.5h1M370 199.5h1M371 200.5h2M373 201.5h2M375 202.5h2M377 203.5h2M379 204.5h5M384 205.5h4M388 206.5h2M390 207.5h1M391 208.5h1M392 209.5h2M394 210.5h1M395 211.5h2M397 212.5h2M399 213.5h2M401 214.5h2M403 215.5h5M408 216.5h4M412 217.5h2M414 218.5h2M416 219.5h1M417 220.5h2M419 221.5h1M420 222.5h2M422 223.5h2M424 224.5h1M425 225.5h2M427 226.5h2M429 227.5h2M431 228.5h2M433 229.5h2M435 230.5h1M436 231.5h1M437 232.5h1M438 233.5h1M439.5 234v2M440 236.5h1M441 237.5h1M442 238.5h1M443 239.5h1M444 240.5h1M445 241.5h1M446 242.5h1M447.5 243v2M448 245.5h1M449 246.5h1M450 247.5h1M451 248.5h1M452 249.5h1M453 250.5h1M454 251.5h1M455 252.5h1M456 253.5h1M457 254.5h1M458 255.5h1M459 256.5h1M460 257.5h1M461 258.5h1M462 259.5h1M463 260.5h1M464 261.5h1M465 262.5h1M466 263.5h1M467 264.5h1M468.5 265v2M469 267.5h1M470.5 268v2M471 270.5h1M472.5 271v2M473 273.5h1M474.5 274v2M475 276.5h1M476 277.5h1M477 278.5h1M478 279.5h2M480 280.5h1M481 281.5h1M482 282.5h1M483 283.5h1M484 284.5h1M485 285.5h1M486 286.5h1M487 287.5h1M488 288.5h1M489 289.5h1M490 290.5h1M491 291.5h1M492.5 292v2M493.5 294v2M494 296.5h1M495.5 297v2M496 299.5h1M497.5 300v2M498.5 302v2M499 304.5h3M502 303.5h4M506 302.5h6M512 303.5h14M526 302.5h4M530 301.5h2M532 300.5h2M534 299.5h2M536 298.5h1M537 297.5h2M539 296.5h2M541 295.5h2M543 294.5h2M545 293.5h2M547 292.5h1M548 291.5h2M550 290.5h1M551 289.5h1M552 288.5h2M554 287.5h1M555 286.5h2M557 285.5h3M560 284.5h2M562 283.5h6M568 282.5h5M573 283.5h2M575 284.5h2M577 285.5h2M579 286.5h2M581 285.5h3M584 284.5h2M586 283.5h6M592 282.5h6M598 283.5h4M602 284.5h6M608 285.5h4M612 286.5h1M613.5 287v2M614 289.5h1M615 290.5h1M616 291.5h1M617.5 292v2M618 294.5h1M619 295.5h1M620 296.5h1M621 297.5h1M622 298.5h1M623 299.5h1M624 300.5h1M625 301.5h1M626 302.5h1M627 303.5h2M629 304.5h3M632 305.5h2M634 306.5h2M636 307.5h2M638 308.5h1M639 309.5h1M640 310.5h2M642 311.5h1M643 312.5h1M644 313.5h1M645 314.5h1M646 315.5h1M647 316.5h1M648 317.5h1M649 318.5h1M650 319.5h1M651 320.5h1M652 321.5h1M653 322.5h1M654 323.5h1M655 324.5h1M656 325.5h1M657 326.5h1M658 327.5h1M659 328.5h1M660 329.5h1M661 330.5h1M662 331.5h1M663 332.5h1M664 333.5h1M665 334.5h1M666 335.5h1M667 336.5h1M668 337.5h1M669 338.5h1M670 339.5h1M671 340.5h1M672 341.5h1M673 342.5h1M674 343.5h1M675 344.5h1M676 345.5h1M677 346.5h1M678 347.5h1M679.5 348v2M680 350.5h1M681 351.5h1M682 352.5h1M683 353.5h1M684 354.5h1M685.5 355v2M686 357.5h1M687 358.5h1M688 359.5h1M689.5 360v2M690 362.5h1M691 363.5h1M692 364.5h1M693.5 365v2M694 367.5h1M695 368.5h1M696 369.5h1M697.5 370v2M698 372.5h1M699 373.5h1M700 374.5h2M702 375.5h2M704 376.5h1M705 377.5h2M707 378.5h2M709 379.5h3M712 380.5h2M714 381.5h3M717 382.5h2M719 383.5h2M721 384.5h2M723 385.5h2M725 386.5h2M727 387.5h2M729 388.5h2M731 389.5h1M732 390.5h2M734 391.5h2M736 392.5h1M737 393.5h2M739 394.5h1M740 395.5h2M742 396.5h2M744 397.5h1M745 398.5h2M747 399.5h1M748 400.5h1M749 401.5h1M750 402.5h1M751.5 403v2M752 405.5h1M753 406.5h1M754 407.5h1M755 408.5h1M756 409.5h2M758 410.5h2M760 411.5h1M761 412.5h2M763 413.5h5M768 414.5h5M773 415.5h3M776 416.5h2M778 417.5h4M782 416.5h4M786 415.5h4M790 414.5h4M794 413.5h2M796 412.5h1M797 411.5h1M798 410.5h2M800 409.5h1M801 408.5h1M802 407.5h1M803 406.5h2M805 405.5h2M807 404.5h2M809 403.5h2M811 402.5h2M813 401.5h2M815 400.5h2M817 399.5h2M819 398.5h3M822 399.5h4M826 400.5h6M832 401.5h8M840 402.5h6M846 403.5h4M850 404.5h2M852 405.5h2M854 406.5h2M856 407.5h1M857 408.5h2M859 409.5h1M860 410.5h1M861.5 411v2M862 413.5h1M863 414.5h1M864 415.5h1M865.5 416v2M866 418.5h1M867 419.5h1M868 420.5h2M870 421.5h2M872 422.5h1M873 423.5h2M875 424.5h1M876 425.5h1M877 426.5h1M878 427.5h1M879.5 428v2M880 430.5h1M881 431.5h1M882 432.5h1M883 433.5h1M884 434.5h1M885 435.5h1M886 436.5h1M887 437.5h1M888 438.5h1M889 439.5h1M890 440.5h1M891 441.5h1M892 442.5h1M893.5 443v2M894 445.5h1M895 446.5h1M896 447.5h1M897.5 448v2M898 450.5h1M899 451.5h2M901 452.5h2M903 453.5h2M905 454.5h2M907 455.5h1M908 456.5h2M910 457.5h1M911 458.5h1M912 459.5h2M914 460.5h1M915 461.5h2M917 462.5h2M919 463.5h2M921 464.5h2M923 465.5h2M925 466.5h2M927 467.5h2M929 468.5h2M931 469.5h2M933 470.5h3M936 471.5h2M938 472.5h3M941 473.5h3M944 474.5h2M946 475.5h4M950 476.5h4M954 477.5h11M965 476.5h2M967 475.5h2M969 474.5h2M971 473.5h1M972 472.5h1M973 471.5h1M974 470.5h2M976 469.5h1M977 468.5h1M978 467.5h1M979 466.5h1M980 465.5h1M981 464.5h1M982 463.5h2M984 462.5h1M985 461.5h1M986 460.5h1M987 459.5h1M988 458.5h1M989 457.5h1M990 456.5h2M992 455.5h1M993 454.5h1M994 453.5h1M995 452.5h1M996.5 450v2M997.5 448v2M998 447.5h1M999.5 445v2M1000 444.5h1M1001.5 442v2M1002.5 440v2M1003 439.5h1M1004.5 437v2M1005 436.5h1M1006 435.5h1M1007.5 433v2M1008 432.5h1M1009 431.5h1M1010.5 429v2M1011 428.5h1M1012.5 426v2M1013 425.5h1M1014 424.5h1M1015.5 422v2M1016 421.5h1M1017 420.5h1M1018.5 418v2M1019.5 416v2M1020.5 414v2M1021.5 412v2M1022.5 410v2M1023.5 408v2M1024.5 406v2M1025.5 404v2M1026.5 402v2M1027 401.5h1M1028.5 399v2M1029 398.5h1M1030.5 396v2M1031 395.5h1M1032.5 393v2M1033 392.5h1M1034.5 390v2M1035 389.5h1M1036 388.5h1M1037.5 386v2M1038 385.5h1M1039 384.5h1M1040 383.5h1M1041.5 381v2M1042 380.5h1M1043 379.5h1M1044.5 377v2M1045 376.5h1M1046 375.5h1M1047.5 373v2M1048 372.5h1M1049 371.5h1M1050.5 369v2M1051 368.5h1M1052 367.5h1M1053.5 365v2M1054 364.5h1M1055 363.5h1M1056 362.5h1M1057.5 360v2M1058 359.5h1M1059 358.5h1M1060 357.5h2M1062 356.5h1M1063 355.5h1M1064 354.5h2M1066 353.5h1M1067 352.5h1M1068 351.5h2M1070 350.5h2M1072 349.5h1M1073 348.5h2M1075 347.5h2M1077 346.5h3M1080 345.5h2M1082 344.5h2M1084 343.5h2M1086 342.5h1M1087 341.5h1M1088 340.5h2M1090 339.5h1M1091 338.5h1M1092 337.5h1M1093 336.5h1M1094 335.5h1M1095 334.5h1M1096 333.5h1M1097 332.5h1M1098 331.5h1M1099 330.5h1M1100 329.5h1M1101 328.5h1M1102 327.5h1M1103 326.5h1M1104 325.5h1M1105 324.5h1M1106 323.5h1M1107 322.5h1M1108 321.5h2M1110 320.5h2M1112 319.5h1M1113 318.5h2M1115 317.5h1" fill="none" stroke="#ff0000" stroke-width="1"/>
<path d="M3 280.5h2M5 279.5h2M7 278.5h2M9 277.5h2M11 276.5h2M13 275.5h1M14 274.5h2M16 273.5h1M17 272.5h2M19 271.5h1M20 270.5h2M22 269.5h1M23 268.5h1M24 267.5h2M26 266.5h1M27 265.5h9M36 266.5h2M38 267.5h1M39 268.5h1M40 269.5h2M42 270.5h1M43 271.5h5M48 272.5h6M54 273.5h4M58 274.5h2M60 275.5h2M62 276.5h2M64 277.5h1M65 278.5h2M67 279.5h1M68 278.5h2M70 277.5h1M71 276.5h1M72 275.5h2M74 274.5h1M75 273.5h1M76 272.5h1M77 271.5h1M78 270.5h2M80 269.5h1M81 268.5h1M82 267.5h1M83 266.5h1M84 265.5h1M85 264.5h1M86 263.5h2M88 262.5h1M89 261.5h1M90 260.5h1M91.5 258v2M92.5 256v2M93.5 254v2M94.5 251v3M95.5 249v2M96.5 246v3M97.5 244v2M98.5 242v2M99.5 239v3M100.5 235v4M101.5 232v3M102.5 229v3M103.5 225v4M104.5 222v3M105.5 219v3M106.5 215v4M107.5 212v3M108.5 209v3M109.5 207v2M110.5 204v3M111.5 201v3M112.5 198v3M113.5 196v2M114.5 193v3M115.5 190v3M116.5 188v2M117.5 186v2M118.5 183v3M119.5 181v2M120.5 178v3M121.5 176v2M122.5 174v2M123.5 172v2M124.5 170v2M125 169.5h1M126.5 167v2M127 166.5h1M128.5 164v2M129 163.5h1M130.5 161v2M131 160.5h2M133 159.5h2M135 158.5h2M137 157.5h2M139 156.5h1M140 155.5h1M141 154.5h1M142 153.5h1M143 152.5h1M144 151.5h1M145 150.5h1M146 149.5h1M147 148.5h1M148 149.5h1M149.5 150v2M150 152.5h1M151 153.5h1M152 154.5h1M153.5 155v2M154 157.5h1M155.5 158v2M156.5 160v2M157.5 162v2M158.5 164v2M159.5 166v2M160.5 168v2M161.5 170v2M162.5 172v2M163 174.5h1M164.5 175v2M165.5 177v2M166.5 179v2M167 181.5h1M168.5 182v2M169.5 184v2M170.5 186v2M171 188.5h1M172.5 189v2M173.5 191v2M174.5 193v2M175 195.5h1M176.5 196v2M177.5 198v2M178.5 200v2M179 202.5h1M180.5 203v2M181.5 205v2M182.5 207v2M183 209.5h1M184.5 210v2M185.5 212v2M186.5 214v2M187 216.5h9M195 215.5h1M196.5 213v2M197.5 211v2M198.5 209v2M199.5 207v2M200.5 205v2M201.5 203v2M202.5 201v2M203.5 199v2M204.5 196v3M205.5 193v3M206.5 190v3M207.5 187v3M208.5 184v3M209.5 181v3M210.5 178v3M211.5 175v3M212.5 173v2M213.5 170v3M214.5 168v2M215.5 165v3M216.5 163v2M217.5 160v3M218.5 158v2M219.5 155v3M220.5 153v2M221.5 151v2M222.5 148v3M223.5 146v2M224.5 143v3M225.5 141v2M226.5 139v2M227.5 136v3M228.5 133v3M229.5 130v3M230.5 127v3M231.5 123v4M232.5 120v3M233.5 117v3M234.5 114v3M235.5 111v3M236.5 109v2M237.5 107v2M238.5 105v2M239.5 102v3M240.5 100v2M241.5 98v2M242.5 96v2M243.5 94v2M244 93.5h1M245.5 91v2M246 90.5h1M247 89.5h1M248 88.5h1M249.5 86v2M250 85.5h1M251 84.5h9M260.5 85v2M261.5 87v2M262 89.5h1M263.5 90v2M264 92.5h1M265.5 93v2M266.5 95v2M267 97.5h1M268.5 98v2M269.5 100v2M270.5 102v2M271 104.5h1M272.5 105v2M273.5 107v2M274.5 109v2M275 111.5h1M276.5 112v2M277 114.5h1M278 115.5h1M279.5 116v2M280 118.5h1M281 119.5h1M282.5 120v2M283 122.5h1M284.5 123v2M285 125.5h1M286.5 126v2M287 128.5h1M288.5 129v2M289 131.5h1M290.5 132v2M291.5 134v2M292.5 136v2M293.5 138v2M294.5 140v3M295.5 143v2M296.5 145v3M297.5 148v2M298.5 150v2M299.5 152v3M300.5 155v2M301.5 157v2M302.5 159v2M303.5 161v3M304.5 164v2M305.5 166v2M306.5 168v2M307.5 170v3M308.5 173v3M309.5 176v3M310.5 179v3M311.5 182v2M312.5 184v3M313.5 187v3M314.5 190v3M315.5 193v2M316.5 195v2M317 197.5h1M318 198.5h1M319.5 199v2M320 201.5h1M321 202.5h1M322.5 203v2M323 205.5h2M325 206.5h2M327 207.5h2M329 208.5h2M331 209.5h1M332 210.5h2M334 211.5h2M336 212.5h1M337 213.5h2M339 214.5h3M342 215.5h4M346 216.5h2M348 215.5h2M350 214.5h1M351 213.5h1M352 212.5h2M354 211.5h1M355 210.5h2M357 209.5h2M359 208.5h2M361 207.5h2M363 206.5h10M373 205.5h3M376 204.5h2M378 203.5h6M384 202.5h5M389 203.5h2M391 204.5h2M393 205.5h2M395 206.5h1M396 207.5h2M398 208.5h2M400 209.5h1M401 210.5h2M403 211.5h1M404.5 212v2M405 214.5h1M406 215.5h1M407.5 216v2M408 218.5h1M409 219.5h1M410.5 220v2M411 222.5h1M412.5 223v2M413.5 225v2M414.5 227v2M415.5 229v2M416.5 231v2M417.5 233v2M418.5 235v2M419 237.5h1M420 238.5h1M421.5 239v2M422 241.5h1M423 242.5h1M424 243.5h1M425.5 244v2M426 246.5h1M427 247.5h1M428 248.5h1M429 249.5h1M430 250.5h1M431.5 251v2M432 253.5h1M433 254.5h1M434 255.5h1M435.5 256v2M436.5 258v2M437.5 260v2M438.5 262v2M439.5 264v2M440.5 266v2M441.5 268v2M442.5 270v2M443.5 272v2M444.5 274v2M445.5 276v2M446 278.5h1M447.5 279v2M448 281.5h1M449.5 282v2M450.5 284v2M451 286.5h1M452.5 287v2M453 289.5h1M454.5 290v2M455 292.5h1M456.5 293v2M457 295.5h1M458.5 296v2M459 298.5h1M460 299.5h1M461 300.5h1M462 301.5h1M463.5 302v2M464 304.5h1M465 305.5h1M466 306.5h1M467 307.5h1M468 308.5h1M469.5 309v2M470 311.5h1M471 312.5h1M472 313.5h1M473.5 314v2M474 316.5h1M475 317.5h1M476 318.5h2M478 319.5h1M479 320.5h1M480 321.5h2M482 322.5h1M483 323.5h1M484 324.5h2M486 325.5h1M487 326.5h1M488 327.5h2M490 328.5h1M491 329.5h5M496 330.5h4M500.5 328v2M501.5 326v2M502.5 324v2M503 323.5h1M504.5 321v2M505.5 319v2M506.5 317v2M507 316.5h1M508 315.5h1M509 314.5h1M510 313.5h1M511 312.5h1M512 311.5h1M513 310.5h1M514 309.5h1M515 308.5h1M516 307.5h2M518 306.5h1M519 305.5h1M520 304.5h2M522 303.5h1M523 302.5h1M524.5 300v2M525.5 298v2M526 297.5h1M527.5 295v2M528 294.5h1M529.5 292v2M530.5 290v2M531 289.5h1M532.5 287v2M533.5 285v2M534.5 283v2M535 282.5h1M536.5 280v2M537.5 278v2M538.5 276v2M539.5 274v2M540.5 272v2M541.5 270v2M542.5 267v3M543.5 265v2M544.5 262v3M545.5 260v2M546.5 258v2M547.5 255v3M548.5 253v2M549.5 251v2M550.5 249v2M551.5 247v2M552.5 245v2M553.5 243v2M554.5 241v2M555 240.5h1M556 241.5h1M557 242.5h1M558 243.5h1M559 244.5h1M560 245.5h1M561 246.5h1M562 247.5h1M563 248.5h1M564 249.5h1M565 250.5h1M566 251.5h1M567.5 252v2M568 254.5h1M569 255.5h1M570 256.5h1M571 257.5h1M572.5 258v2M573 260.5h1M574.5 261v2M575 263.5h1M576.5 264v2M577 266.5h1M578.5 267v2M579 269.5h1M580.5 270v2M581.5 272v2M582.5 274v2M583 276.5h1M584.5 277v2M585.5 279v2M586.5 281v2M587 283.5h1M588.5 284v2M589.5 286v2M590.5 288v2M591 290.5h1M592.5 291v2M593.5 293v2M594.5 295v2M595.5 297v2M596.5 299v2M597.5 301v2M598.5 303v2M599.5 305v2M600.5 307v2M601.5 309v2M602.5 311v2M603.5 313v2M604.5 315v2M605.5 317v2M606.5 319v2M607.5 321v2M608.5 323v2M609.5 325v2M610.5 327v2M611 329.5h1M612.5 330v2M613 332.5h1M614 333.5h1M615.5 334v2M616 336.5h1M617 337.5h1M618.5 338v2M619 340.5h1M620 341.5h1M621.5 342v2M622 344.5h1M623 345.5h1M624 346.5h1M625.5 347v2M626 349.5h1M627 350.5h2M629 349.5h2M631 348.5h2M633 347.5h2M635 346.5h1M636 345.5h1M637 344.5h1M638 343.5h2M640 342.5h1M641 341.5h1M642 340.5h1M643 339.5h3M646 338.5h4M650 337.5h12M662 338.5h4M666 339.5h2M668 340.5h2M670 341.5h2M672 342.5h1M673 343.5h2M675 344.5h1M676.5 345v2M677.5 347v2M678 349.5h1M679.5 350v2M680 352.5h1M681.5 353v2M682.5 355v2M683.5 357v2M684.5 359v2M685.5 361v2M686.5 363v2M687.5 365v2M688.5 367v2M689.5 369v2M690.5 371v2M691.5 373v2M692.5 375v2M693.5 377v3M694.5 380v2M695.5 382v3M696.5 385v2M697.5 387v3M698.5 390v2M699.5 392v3M700.5 395v3M701.5 398v3M702.5 401v3M703.5 404v3M704.5 407v3M705.5 410v3M706.5 413v3M707.5 416v2M708 418.5h1M709 419.5h1M710 420.5h1M711.5 421v2M712 423.5h1M713 424.5h1M714 425.5h1M715 426.5h1M716 427.5h2M718 428.5h1M719 429.5h1M720 430.5h2M722 431.5h1M723 432.5h2M725 433.5h3M728 434.5h2M730 435.5h3M733 434.5h2M735 433.5h2M737 432.5h2M739 431.5h1M740 430.5h1M741 429.5h1M742 428.5h1M743.5 426v2M744 425.5h1M745 424.5h1M746 423.5h1M747 422.5h1M748 421.5h1M749.5 419v2M750 418.5h1M751 417.5h1M752 416.5h1M753.5 414v2M754 413.5h1M755 412.5h1M756 411.5h2M758 410.5h1M759 409.5h1M760 408.5h2M762 407.5h1M763 406.5h2M765 405.5h2M767 404.5h2M769 403.5h2M771 402.5h2M773 401.5h3M776 400.5h2M778 399.5h2M780 398.5h2M782 397.5h1M783 396.5h1M784 395.5h2M786 394.5h1M787 393.5h5M792 394.5h5M797 393.5h2M799 392.5h2M801 391.5h2M803 390.5h2M805 391.5h3M808 392.5h2M810 393.5h3M813 392.5h2M815 391.5h2M817 390.5h2M819 389.5h1M820 390.5h2M822 391.5h2M824 392.5h1M825 393.5h2M827 394.5h1M828 395.5h1M829 396.5h1M830 397.5h1M831 398.5h1M832 399.5h1M833 400.5h1M834 401.5h1M835 402.5h1M836.5 403v2M837 405.5h1M838 406.5h1M839.5 407v2M840 409.5h1M841 410.5h1M842.5 411v2M843 413.5h5M848 412.5h4M852.5 413v2M853.5 415v2M854.5 417v2M855.5 419v2M856.5 421v2M857.5 423v2M858.5 425v2M859 427.5h1M860.5 428v2M861.5 430v2M862.5 432v2M863.5 434v2M864.5 436v2M865.5 438v2M866.5 440v2M867 442.5h1M868.5 443v2M869.5 445v2M870 447.5h1M871.5 448v2M872 450.5h1M873.5 451v2M874.5 453v2M875 455.5h1M876.5 456v2M877 458.5h1M878.5 459v2M879 461.5h1M880.5 462v2M881 464.5h1M882.5 465v2M883 467.5h1M884.5 468v2M885.5 470v2M886.5 472v2M887.5 474v2M888.5 476v2M889.5 478v2M890.5 480v2M891 482.5h1M892 483.5h1M893 484.5h1M894 485.5h1M895.5 486v2M896 488.5h1M897 489.5h1M898 490.5h1M899 491.5h1M900 492.5h2M902 493.5h1M903 494.5h1M904 495.5h2M906 496.5h1M907 497.5h2M909 496.5h3M912 495.5h2M914 494.5h2M916 493.5h1M917 492.5h1M918 491.5h2M920 490.5h1M921 489.5h1M922 488.5h1M923 487.5h1M924 486.5h2M926 485.5h1M927 484.5h1M928 483.5h2M930 482.5h1M931 481.5h1M932 480.5h2M934 479.5h2M936 478.5h1M937 477.5h2M939 476.5h1M940 475.5h1M941 474.5h1M942 473.5h2M944 472.5h1M945 471.5h1M946 470.5h1M947 469.5h1M948 468.5h1M949 467.5h1M950 466.5h2M952 465.5h1M953 464.5h1M954 463.5h1M955 462.5h1M956 461.5h1M957 460.5h1M958 459.5h1M959 458.5h1M960 457.5h1M961 456.5h1M962 455.5h1M963 454.5h1M964 453.5h1M965 452.5h1M966 451.5h1M967 450.5h1M968 449.5h1M969 448.5h1M970 447.5h1M971 446.5h1M972 445.5h1M973 444.5h1M974 443.5h2M976 442.5h1M977 441.5h1M978 440.5h1M979 439.5h1M980 438.5h2M982 437.5h2M984 436.5h1M985 435.5h2M987 434.5h1M988 433.5h1M989 432.5h1M990 431.5h1M991.5 429v2M992 428.5h1M993 427.5h1M994 426.5h1M995 425.5h1M996.5 423v2M997.5 421v2M998.5 419v2M999 418.5h1M1000.5 416v2M1001.5 414v2M1002.5 412v2M1003.5 410v2M1004.5 408v2M1005.5 405v3M1006.5 403v2M1007.5 400v3M1008.5 398v2M1009.5 395v3M1010.5 393v2M1011.5 390v3M1012.5 388v2M1013.5 385v3M1014.5 383v2M1015.5 380v3M1016.5 378v2M1017.5 375v3M1018.5 373v2M1019.5 370v3M1020.5 368v2M1021.5 366v2M1022.5 364v2M1023.5 362v2M1024.5 360v2M1025.5 358v2M1026.5 356v2M1027.5 354v2M1028.5 352v2M1029.5 350v2M1030.5 348v2M1031.5 346v2M1032.5 344v2M1033.5 342v2M1034.5 340v2M1035.5 338v2M1036.5 336v2M1037.5 334v2M1038.5 332v2M1039.5 330v2M1040.5 328v2M1041.5 326v2M1042.5 324v2M1043 323.5h1M1044.5 321v2M1045 320.5h1M1046 319.5h1M1047.5 317v2M1048 316.5h1M1049 315.5h1M1050.5 313v2M1051 312.5h2M1053 311.5h3M1056 310.5h2M1058 309.5h2M1060 310.5h1M1061 311.5h1M1062 312.5h1M1063 313.5h1M1064 314.5h1M1065 315.5h1M1066 316.5h1M1067 317.5h1M1068 318.5h1M1069 319.5h1M1070 320.5h1M1071.5 321v2M1072 323.5h1M1073 324.5h1M1074 325.5h1M1075 326.5h1M1076 327.5h1M1077 328.5h1M1078 329.5h1M1079 330.5h1M1080 331.5h1M1081 332.5h1M1082 333.5h1M1083 334.5h2M1085 335.5h2M1087 336.5h2M1089 337.5h2M1091 338.5h2M1093 337.5h3M1096 336.5h2M1098 335.5h3M1101 334.5h3M1104 333.5h2M1106 332.5h2M1108 331.5h1M1109 330.5h1M1110 329.5h2M1112 328.5h1M1113 327.5h1M1114 326.5h1M1115 325.5h1" fill="none" stroke="#0000c8" stroke-width="1"/>
<rect x="3" y="168" width="1417" height="3" fill="#ff0000" />
<rect x="3" y="257" width="1417" height="3" fill="#ff0000" />
<rect x="3" y="341" width="1417" height="3" fill="#00ff00" />
<rect x="3" y="435" width="1417" height="3" fill="#0000ff" />
<rect x="3" y="554" width="1417" height="3" fill="#ff0000" />
<rect x="3" y="615" width="1" height="17" fill="#c0c0c0" />
<rect x="11" y="615" width="1" height="12" fill="#c0c0c0" />
<rect x="19" y="615" width="1" height="10" fill="#c0c0c0" />
<rect x="27" y="615" width="1" height="9" fill="#c0c0c0" />
<rect x="35" y="615" width="1" height="11" fill="#c0c0c0" />
<rect x="43" y="615" width="1" height="14" fill="#c0c0c0" />
<rect x="51" y="615" width="1" height="17" fill="#c0c0c0" />
<rect x="59" y="615" width="1" height="15" fill="#c0c0c0" />
<rect x="67" y="615" width="1" height="14" fill="#c0c0c0" />
<rect x="75" y="615" width="1" height="7" fill="#c0c0c0" />
<rect x="91" y="613" width="1" height="3" fill="#c0c0c0" />
<rect x="99" y="607" width="1" height="9" fill="#c0c0c0" />
<rect x="107" y="597" width="1" height="19" fill="#c0c0c0" />
<rect x="115" y="591" width="1" height="25" fill="#c0c0c0" />
<rect x="123" y="587" width="1" height="29" fill="#c0c0c0" />
<rect x="131" y="583" width="1" height="33" fill="#c0c0c0" />
<rect x="139" y="583" width="1" height="33" fill="#c0c0c0" />
<rect x="147" y="585" width="1" height="31" fill="#c0c0c0" />
<rect x="155" y="592" width="1" height="24" fill="#c0c0c0" />
<rect x="163" y="598" width="1" height="18" fill="#c0c0c0" />
<rect x="171" y="602" width="1" height="14" fill="#c0c0c0" />
<rect x="179" y="607" width="1" height="9" fill="#c0c0c0" />
<rect x="187" y="609" width="1" height="7" fill="#c0c0c0" />
<rect x="195" y="605" width="1" height="11" fill="#c0c0c0" />
<rect x="203" y="597" width="1" height="19" fill="#c0c0c0" />
<rect x="211" y="587" width="1" height="29" fill="#c0c0c0" />
<rect x="219" y="580" width="1" height="36" fill="#c0c0c0" />
<rect x="227" y="577" width="1" height="39" fill="#c0c0c0" />
<rect x="235" y="575" width="1" height="41" fill="#c0c0c0" />
<rect x="243" y="574" width="1" height="42" fill="#c0c0c0" />
<rect x="251" y="573" width="1" height="43" fill="#c0c0c0" />
<rect x="259" y="574" width="1" height="42" fill="#c0c0c0" />
<rect x="267" y="582" width="1" height="34" fill="#c0c0c0" />
<rect x="275" y="588" width="1" height="28" fill="#c0c0c0" />
<rect x="283" y="593" width="1" height="23" fill="#c0c0c0" />
<rect x="291" y="598" width="1" height="18" fill="#c0c0c0" />
<rect x="299" y="607" width="1" height="9" fill="#c0c0c0" />
<rect x="307" y="614" width="1" height="2" fill="#c0c0c0" />
<rect x="315" y="615" width="1" height="5" fill="#c0c0c0" />
<rect x="323" y="615" width="1" height="11" fill="#c0c0c0" />
<rect x="331" y="615" width="1" height="11" fill="#c0c0c0" />
<rect x="339" y="615" width="1" height="11" fill="#c0c0c0" />
<rect x="347" y="615" width="1" height="10" fill="#c0c0c0" />
<rect x="355" y="615" width="1" height="9" fill="#c0c0c0" />
<rect x="363" y="615" width="1" height="8" fill="#c0c0c0" />
<rect x="371" y="615" width="1" height="11" fill="#c0c0c0" />
<rect x="379" y="615" width="1" height="14" fill="#c0c0c0" />
<rect x="387" y="615" width="1" height="12" fill="#c0c0c0" />
<rect x="395" y="615" width="1" height="13" fill="#c0c0c0" />
<rect x="403" y="615" width="1" height="16" fill="#c0c0c0" />
<rect x="411" y="615" width="1" height="18" fill="#c0c0c0" />
<rect x="419" y="615" width="1" height="24" fill="#c0c0c0" />
<rect x="427" y="615" width="1" height="29" fill="#c0c0c0" />
<rect x="435" y="615" width="1" height="33" fill="#c0c0c0" />
<rect x="443" y="615" width="1" height="37" fill="#c0c0c0" />
<rect x="451" y="615" width="1" height="39" fill="#c0c0c0" />
<rect x="459" y="615" width="1" height="39" fill="#c0c0c0" />
<rect x="467" y="615" width="1" height="38" fill="#c0c0c0" />
<rect x="475" y="615" width="1" height="44" fill="#c0c0c0" />
<rect x="483" y="615" width="1" height="47" fill="#c0c0c0" />
<rect x="491" y="615" width="1" height="46" fill="#c0c0c0" />
<rect x="499" y="615" width="1" height="46" fill="#c0c0c0" />
<rect x="507" y="615" width="1" height="33" fill="#c0c0c0" />
<rect x="515" y="615" width="1" height="26" fill="#c0c0c0" />
<rect x="523" y="615" width="1" height="21" fill="#c0c0c0" />
<rect x="531" y="615" width="1" height="18" fill="#c0c0c0" />
<rect x="539" y="615" width="1" height="13" fill="#c0c0c0" />
<rect x="547" y="615" width="1" height="10" fill="#c0c0c0" />
<rect x="555" y="615" width="1" height="6" fill="#c0c0c0" />
<rect x="563" y="615" width="1" height="6" fill="#c0c0c0" />
<rect x="571" y="615" width="1" height="8" fill="#c0c0c0" />
<rect x="579" y="615" width="1" height="15" fill="#c0c0c0" />
<rect x="587" y="615" width="1" height="19" fill="#c0c0c0" />
<rect x="595" y="615" width="1" height="23" fill="#c0c0c0" />
<rect x="603" y="615" width="1" height="26" fill="#c0c0c0" />
<rect x="611" y="615" width="1" height="29" fill="#c0c0c0" />
<rect x="619" y="615" width="1" height="30" fill="#c0c0c0" />
<rect x="627" y="615" width="1" height="31" fill="#c0c0c0" />
<rect x="635" y="615" width="1" height="26" fill="#c0c0c0" />
<rect x="643" y="615" width="1" height="23" fill="#c0c0c0" />
<rect x="651" y="615" width="1" height="23" fill="#c0c0c0" />
<rect x="659" y="615" width="1" height="24" fill="#c0c0c0" />
<rect x="667" y="615" width="1" height="25" fill="#c0c0c0" />
<rect x="675" y="615" width="1" height="28" fill="#c0c0c0" />
<rect x="683" y="615" width="1" height="37" fill="#c0c0c0" />
<rect x="691" y="615" width="1" height="42" fill="#c0c0c0" />
<rect x="699" y="615" width="1" height="48" fill="#c0c0c0" />
<rect x="707" y="615" width="1" height="51" fill="#c0c0c0" />
<rect x="715" y="615" width="1" height="48" fill="#c0c0c0" />
<rect x="723" y="615" width="1" height="45" fill="#c0c0c0" />
<rect x="731" y="615" width="1" height="42" fill="#c0c0c0" />
<rect x="739" y="615" width="1" height="40" fill="#c0c0c0" />
<rect x="747" y="615" width="1" height="37" fill="#c0c0c0" />
<rect x="755" y="615" width="1" height="33" fill="#c0c0c0" />
<rect x="763" y="615" width="1" height="33" fill="#c0c0c0" />
<rect x="771" y="615" width="1" height="29" fill="#c0c0c0" />
<rect x="779" y="615" width="1" height="24" fill="#c0c0c0" />
<rect x="787" y="615" width="1" height="19" fill="#c0c0c0" />
<rect x="795" y="615" width="1" height="22" fill="#c0c0c0" />
<rect x="803" y="615" width="1" height="17" fill="#c0c0c0" />
<rect x="811" y="615" width="1" height="18" fill="#c0c0c0" />
<rect x="819" y="615" width="1" height="16" fill="#c0c0c0" />
<rect x="827" y="615" width="1" height="18" fill="#c0c0c0" />
<rect x="835" y="615" width="1" height="20" fill="#c0c0c0" />
<rect x="843" y="615" width="1" height="20" fill="#c0c0c0" />
<rect x="851" y="615" width="1" height="20" fill="#c0c0c0" />
<rect x="859" y="615" width="1" height="25" fill="#c0c0c0" />
<rect x="867" y="615" width="1" height="31" fill="#c0c0c0" />
<rect x="875" y="615" width="1" height="34" fill="#c0c0c0" />
<rect x="883" y="615" width="1" height="35" fill="#c0c0c0" />
<rect x="891" y="615" width="1" height="40" fill="#c0c0c0" />
<rect x="899" y="615" width="1" height="41" fill="#c0c0c0" />
<rect x="907" y="615" width="1" height="38" fill="#c0c0c0" />
<rect x="915" y="615" width="1" height="35" fill="#c0c0c0" />
<rect x="923" y="615" width="1" height="31" fill="#c0c0c0" />
<rect x="931" y="615" width="1" height="27" fill="#c0c0c0" />
<rect x="939" y="615" width="1" height="25" fill="#c0c0c0" />
<rect x="947" y="615" width="1" height="24" fill="#c0c0c0" />
<rect x="955" y="615" width="1" height="21" fill="#c0c0c0" />
<rect x="963" y="615" width="1" height="17" fill="#c0c0c0" />
<rect x="971" y="615" width="1" height="10" fill="#c0c0c0" />
<rect x="979" y="615" width="1" height="5" fill="#c0c0c0" />
<rect x="987" y="615" width="1" height="3" fill="#c0c0c0" />
<rect x="995" y="615" width="1" height="1" fill="#c0c0c0" />
<rect x="1003" y="609" width="1" height="7" fill="#c0c0c0" />
<rect x="1011" y="600" width="1" height="16" fill="#c0c0c0" />
<rect x="1019" y="591" width="1" height="25" fill="#c0c0c0" />
<rect x="1027" y="584" width="1" height="32" fill="#c0c0c0" />
<rect x="1035" y="579" width="1" height="37" fill="#c0c0c0" />
<rect x="1043" y="578" width="1" height="38" fill="#c0c0c0" />
<rect x="1051" y="577" width="1" height="39" fill="#c0c0c0" />
<rect x="1059" y="579" width="1" height="37" fill="#c0c0c0" />
<rect x="1067" y="583" width="1" height="33" fill="#c0c0c0" />
<rect x="1075" y="587" width="1" height="29" fill="#c0c0c0" />
<rect x="1083" y="588" width="1" height="28" fill="#c0c0c0" />
<rect x="1091" y="589" width="1" height="27" fill="#c0c0c0" />
<rect x="1099" y="586" width="1" height="30" fill="#c0c0c0" />
<rect x="1107" y="584" width="1" height="32" fill="#c0c0c0" />
<rect x="1115" y="583" width="1" height="33" fill="#c0c0c0" />
<path d="M3 628.5h3M9 628.5h3M15 628.5h3M21 628.5h3M27 628.5h3M33 628.5h3M39 628.5h3M45 628.5h3M51 628.5h3M57 628.5h3M63 628.5h3M69 628.5h1M70 627.5h2M75 626.5h3M81 625.5h3M87 625.5h1M88 624.5h2M93 624.5h1M94 623.5h2M99 622.5h2M101 621.5h1M105 620.5h1M106 619.5h2M111 617.5h2M113 616.5h1M117 614.5h1M118 613.5h1M119 612.5h1M123 609.5h2M125 608.5h1M129 606.5h2M131 605.5h1M135 603.5h1M136 602.5h1M137 601.5h1M141 599.5h2M143 598.5h1M147 596.5h2M149 595.5h1M153 593.5h2M155 592.5h1M159 592.5h1M160 591.5h2M165 591.5h3M171 591.5h3M177 591.5h3M183 592.5h3M189 594.5h2M191 595.5h1M195 596.5h3M201 596.5h3M207 597.5h3M213 598.5h1M214 597.5h2M219 596.5h3M225 595.5h3M231 594.5h1M232 593.5h2M237 591.5h3M243 589.5h2M245 588.5h1M249 586.5h2M251 585.5h1M255 583.5h2M257 582.5h1M261 581.5h1M262 580.5h2M267 579.5h3M273 578.5h3M279 578.5h1M280 579.5h2M285 580.5h3M291 582.5h2M293 583.5h1M297 584.5h1M298 585.5h2M303 587.5h2M305 588.5h1M309 590.5h1M310 591.5h2M315 594.5h1M316 595.5h2M321 598.5h2M323 599.5h1M327 602.5h1M328 603.5h2M333 606.5h1M334 607.5h2M339 610.5h2M341 611.5h1M345 613.5h2M347 614.5h1M351 615.5h1M352 616.5h2M357 618.5h3M363 620.5h2M365 621.5h1M369 623.5h2M371 624.5h1M375 624.5h1M376 625.5h2M381 625.5h3M387 625.5h3M393 626.5h3M399 626.5h1M400 627.5h2M405 627.5h3M411 627.5h3M417 628.5h3M423 629.5h1M424 630.5h2M429 632.5h3M435 634.5h2M437 635.5h1M441 636.5h1M442 637.5h2M447 638.5h1M448 639.5h2M453 640.5h1M454 641.5h2M459 642.5h3M465 643.5h1M466 644.5h2M471 645.5h1M472 646.5h2M477 648.5h2M479 649.5h1M483 651.5h2M485 652.5h1M489 653.5h1M490 654.5h2M495 654.5h1M496 655.5h2M501 655.5h3M507 655.5h3M513 654.5h3M519 653.5h3M525 651.5h3M531 649.5h3M537 648.5h1M538 647.5h2M543 646.5h1M544 645.5h2M549 643.5h1M550 642.5h2M555 639.5h1M556 638.5h2M561 635.5h2M563 634.5h1M567 632.5h2M569 631.5h1M573 630.5h1M574 629.5h2M579 628.5h3M585 627.5h3M591 627.5h3M597 627.5h3M603 628.5h2M605 629.5h1M609 630.5h1M610 631.5h2M615 632.5h3M621 633.5h1M622 634.5h2M627 635.5h2M629 636.5h1M633 637.5h1M634 638.5h2M639 638.5h1M640 639.5h2M645 639.5h3M651 640.5h3M657 640.5h3M663 640.5h1M664 641.5h2M669 641.5h3M675 642.5h3M681 642.5h3M687 643.5h3M693 644.5h1M694 645.5h2M699 646.5h3M705 647.5h3M711 649.5h2M713 650.5h1M717 651.5h1M718 652.5h2M723 653.5h3M729 654.5h1M730 655.5h2M735 656.5h3M741 657.5h3M747 657.5h3M753 657.5h3M759 657.5h1M760 656.5h2M765 656.5h3M771 655.5h2M773 654.5h1M777 653.5h1M778 652.5h2M783 650.5h2M785 649.5h1M789 648.5h1M790 647.5h2M795 646.5h2M797 645.5h1M801 644.5h1M802 643.5h2M807 642.5h1M808 641.5h2M813 640.5h1M814 639.5h2M819 638.5h3M825 637.5h3M831 636.5h3M837 635.5h3M843 634.5h3M849 634.5h3M855 634.5h3M861 634.5h3M867 635.5h3M873 636.5h1M874 637.5h2M879 637.5h1M880 638.5h2M885 639.5h3M891 641.5h2M893 642.5h1M897 644.5h2M899 645.5h1M903 645.5h1M904 646.5h2M909 646.5h3M915 647.5h3M921 648.5h1M922 649.5h2M927 649.5h3M933 649.5h3M939 648.5h3M945 647.5h3M951 646.5h3M957 645.5h1M958 644.5h2M963 643.5h2M965 642.5h1M969 640.5h2M971 639.5h1M975 638.5h1M976 637.5h2M981 635.5h2M983 634.5h1M987 632.5h2M989 631.5h1M993 630.5h1M994 629.5h2M999 627.5h2M1001 626.5h1M1005 624.5h2M1007 623.5h1M1011 621.5h1M1012 620.5h2M1017 617.5h1M1018 616.5h1M1019 615.5h1M1023 613.5h1M1024 612.5h1M1025 611.5h1M1029 609.5h1M1030 608.5h1M1031 607.5h1M1035 604.5h1M1036 603.5h2M1041 600.5h2M1043 599.5h1M1047 597.5h1M1048 596.5h1M1049 595.5h1M1053 593.5h1M1054 592.5h2M1059 589.5h2M1061 588.5h1M1065 586.5h2M1067 585.5h1M1071 585.5h1M1072 584.5h2M1077 584.5h1M1078 583.5h2M1083 582.5h3M1089 582.5h3M1095 582.5h3M1101 582.5h3M1107 583.5h3M1113 584.5h3" fill="none" stroke="#ff0000" stroke-width="1"/>
<path d="M3 712.5H1418" stroke="#c0c0c0" stroke-width="1" stroke-dasharray="3 3" fill="none"/>
<path d="M3 763.5H1418" stroke="#c0c0c0" stroke-width="1" stroke-dasharray="3 3" fill="none"/>
<path d="M3 742.5h1M4 741.5h1M5 740.5h1M6 739.5h1M7 738.5h1M8 737.5h1M9 736.5h1M10 735.5h1M11 734.5h5M16 735.5h4M20 736.5h2M22 737.5h2M24 738.5h1M25 739.5h2M27 740.5h1M28 741.5h1M29 742.5h1M30 743.5h2M32 744.5h1M33 745.5h1M34 746.5h1M35 747.5h1M36 748.5h2M38 749.5h1M39 750.5h1M40 751.5h2M42 752.5h1M43 753.5h3M46 754.5h4M50 755.5h2M52.5 753v2M53.5 751v2M54 750.5h1M55.5 748v2M56 747.5h1M57.5 745v2M58.5 743v2M59 742.5h9M67 741.5h1M68.5 739v2M69.5 737v2M70.5 735v2M71.5 733v2M72.5 731v2M73.5 729v2M74.5 727v2M75.5 725v2M76 725.5h2M78 724.5h4M82 723.5h2M84 724.5h1M85 725.5h1M86 726.5h2M88 727.5h1M89 728.5h1M90 729.5h1M91 730.5h1M92 729.5h1M93 728.5h1M94 727.5h1M95 726.5h1M96 725.5h1M97 724.5h1M98 723.5h1M99 722.5h1M100 721.5h1M101 720.5h1M102 719.5h1M103.5 717v2M104 716.5h1M105 715.5h1M106 714.5h1M107 713.5h1M108 714.5h2M110 715.5h2M112 716.5h1M113 717.5h2M115 718.5h13M128 717.5h4M132 718.5h1M133 719.5h1M134 720.5h1M135.5 721v2M136 723.5h1M137 724.5h1M138 725.5h1M139 726.5h2M141 727.5h2M143 728.5h2M145 729.5h2M147 730.5h1M148.5 731v2M149.5 733v2M150.5 735v2M151 737.5h1M152.5 738v2M153.5 740v2M154.5 742v2M155 744.5h3M158 743.5h4M162 742.5h4M166 741.5h4M170 740.5h2M172 741.5h2M174 742.5h2M176 743.5h1M177 744.5h2M179 745.5h1M180 744.5h1M181 743.5h1M182 742.5h1M183 741.5h1M184 740.5h1M185 739.5h1M186 738.5h1M187 737.5h1M188 736.5h1M189 735.5h1M190 734.5h1M191.5 732v2M192 731.5h1M193 730.5h1M194 729.5h1M195 728.5h1M196 727.5h1M197.5 725v2M198 724.5h1M199 723.5h1M200 722.5h1M201.5 720v2M202 719.5h1M203 718.5h5M208 717.5h6M214 716.5h4M218 715.5h2M220 716.5h1M221 717.5h1M222 718.5h1M223 719.5h1M224 720.5h1M225 721.5h1M226 722.5h1M227 723.5h5M232 722.5h14M246 721.5h4M250 720.5h2M252 721.5h2M254 722.5h2M256 723.5h1M257 724.5h2M259 725.5h1M260.5 726v2M261.5 728v2M262.5 730v2M263.5 732v2M264.5 734v2M265.5 736v2M266.5 738v2M267 740.5h5M272 739.5h16M288 740.5h4M292.5 741v2M293 743.5h1M294.5 744v2M295 746.5h1M296.5 747v2M297 749.5h1M298.5 750v2M299 752.5h3M302 751.5h4M306 750.5h4M310 751.5h4M314 752.5h6M320 753.5h4M324.5 751v2M325 750.5h1M326.5 748v2M327 747.5h1M328.5 745v2M329 744.5h1M330.5 742v2M331 741.5h3M334 742.5h4M338 743.5h2M340 742.5h2M342 741.5h2M344 740.5h1M345 739.5h2M347 738.5h10M357 739.5h3M360 740.5h2M362 741.5h2M364 742.5h1M365 743.5h1M366 744.5h1M367.5 745v2M368 747.5h1M369 748.5h1M370 749.5h1M371 750.5h2M373 749.5h2M375 748.5h2M377 747.5h2M379 746.5h1M380 745.5h1M381 744.5h1M382 743.5h1M383 742.5h1M384 741.5h1M385 740.5h1M386 739.5h1M387 738.5h1M388 739.5h1M389 740.5h1M390 741.5h1M391 742.5h1M392 743.5h1M393 744.5h1M394 745.5h1M395 746.5h10M405 747.5h3M408 748.5h2M410 749.5h2M412 750.5h1M413 751.5h1M414 752.5h1M415 753.5h1M416 754.5h1M417 755.5h1M418 756.5h1M419 757.5h3M422 758.5h4M426 759.5h4M430 758.5h4M434 757.5h3M437 758.5h3M440 759.5h2M442 760.5h6M448 759.5h5M453 758.5h2M455 757.5h2M457 756.5h2M459 755.5h2M461 754.5h2M463 753.5h2M465 752.5h2M467 751.5h1M468.5 752v2M469.5 754v2M470.5 756v2M471 758.5h1M472.5 759v2M473.5 761v2M474.5 763v2M475 765.5h2M477 764.5h2M479 763.5h2M481 762.5h2M483 761.5h1M484 760.5h1M485 759.5h1M486 758.5h1M487 757.5h1M488 756.5h1M489 755.5h1M490 754.5h1M491 753.5h9M499 752.5h1M500.5 749v3M501.5 746v3M502.5 743v3M503.5 740v3M504.5 737v3M505.5 734v3M506.5 731v3M507.5 729v2M508 730.5h2M510 731.5h2M512 732.5h1M513 733.5h2M515 734.5h10M525 735.5h2M527 736.5h2M529 737.5h2M531 738.5h2M533 737.5h2M535 736.5h2M537 735.5h2M539 734.5h11M550 733.5h4M554 732.5h2M556 733.5h1M557 734.5h1M558 735.5h1M559 736.5h1M560 737.5h1M561 738.5h1M562 739.5h1M563 740.5h1M564 741.5h1M565 742.5h1M566 743.5h2M568 744.5h1M569 745.5h1M570 746.5h1M571 747.5h2M573 748.5h2M575 749.5h2M577 750.5h2M579 751.5h3M582 752.5h4M586 753.5h12M598 754.5h4M602 755.5h3M605 754.5h2M607 753.5h2M609 752.5h2M611 751.5h5M616 752.5h8M624 753.5h4M628.5 751v2M629.5 749v2M630.5 747v2M631.5 745v2M632.5 743v2M633.5 741v2M634.5 739v2M635 738.5h5M640 739.5h4M644 740.5h1M645 741.5h1M646 742.5h1M647 743.5h1M648 744.5h1M649 745.5h1M650 746.5h1M651 747.5h3M654 748.5h4M658 749.5h10M668 750.5h2M670 751.5h2M672 752.5h1M673 753.5h2M675 754.5h1M676.5 755v2M677 757.5h1M678 758.5h1M679.5 759v2M680 761.5h1M681 762.5h1M682.5 763v2M683 765.5h2M685 764.5h2M687 763.5h2M689 762.5h2M691 761.5h2M693 762.5h3M696 763.5h2M698 764.5h4M702 763.5h4M706 762.5h2M708.5 760v2M709.5 758v2M710.5 756v2M711.5 754v2M712.5 752v2M713.5 750v2M714.5 748v2M715 747.5h11M726 748.5h4M730 749.5h4M734 750.5h4M738 751.5h2M740 750.5h1M741 749.5h1M742 748.5h1M743 747.5h1M744 746.5h1M745 745.5h1M746 744.5h1M747 743.5h9M756 744.5h2M758 745.5h1M759 746.5h1M760 747.5h2M762 748.5h1M763 749.5h1M764 748.5h1M765 747.5h1M766 746.5h1M767.5 744v2M768 743.5h1M769 742.5h1M770 741.5h1M771 740.5h2M773 739.5h3M776 738.5h2M778 737.5h3M781 736.5h3M784 735.5h2M786 734.5h2M788.5 735v2M789.5 737v2M790.5 739v2M791.5 741v2M792.5 743v2M793.5 745v2M794.5 747v2M795 749.5h1M796.5 747v2M797 746.5h1M798.5 744v2M799 743.5h1M800.5 741v2M801 740.5h1M802.5 738v2M803 737.5h1M804 738.5h1M805 739.5h1M806 740.5h2M808 741.5h1M809 742.5h1M810 743.5h1M811 744.5h2M813 743.5h2M815 742.5h2M817 741.5h2M819 740.5h1M820 741.5h2M822 742.5h2M824 743.5h1M825 744.5h2M827 745.5h5M832 744.5h5M837 745.5h2M839 746.5h2M841 747.5h2M843 748.5h2M845 747.5h2M847 746.5h2M849 745.5h2M851 744.5h1M852 745.5h1M853 746.5h1M854 747.5h1M855 748.5h1M856 749.5h1M857 750.5h1M858 751.5h1M859 752.5h2M861 753.5h2M863 754.5h2M865 755.5h2M867 756.5h2M869 755.5h2M871 754.5h2M873 753.5h2M875 752.5h9M884 753.5h2M886 754.5h2M888 755.5h1M889 756.5h2M891 757.5h1M892 756.5h1M893 755.5h1M894 754.5h2M896 753.5h1M897 752.5h1M898 751.5h1M899 750.5h1M900 749.5h2M902 748.5h2M904 747.5h1M905 746.5h2M907 745.5h2M909 744.5h3M912 743.5h2M914 742.5h4M918 741.5h4M922 740.5h11M933 741.5h3M936 742.5h2M938 743.5h4M942 744.5h4M946 745.5h2M948 744.5h2M950 743.5h1M951 742.5h1M952 741.5h2M954 740.5h1M955 739.5h2M957 738.5h2M959 737.5h2M961 736.5h2M963 735.5h1M964 734.5h1M965 733.5h1M966 732.5h2M968 731.5h1M969 730.5h1M970 729.5h1M971 728.5h2M973 729.5h3M976 730.5h2M978 731.5h6M984 732.5h6M990 731.5h4M994 730.5h2M996 729.5h1M997 728.5h1M998 727.5h2M1000 726.5h1M1001 725.5h1M1002 724.5h1M1003 723.5h1M1004 722.5h1M1005 721.5h1M1006 720.5h1M1007 719.5h1M1008 718.5h1M1009 717.5h1M1010 716.5h1M1011 715.5h2M1013 714.5h2M1015 713.5h2M1017 712.5h2M1019 711.5h3M1022 712.5h4M1026 713.5h6M1032 714.5h4M1036 715.5h2M1038 716.5h1M1039 717.5h1M1040 718.5h2M1042 719.5h1M1043 720.5h9M1052 721.5h1M1053 722.5h1M1054 723.5h2M1056 724.5h1M1057 725.5h1M1058 726.5h1M1059 727.5h1M1060 728.5h2M1062 729.5h1M1063 730.5h1M1064 731.5h2M1066 732.5h1M1067 733.5h5M1072 732.5h5M1077 731.5h3M1080 730.5h2M1082 729.5h4M1086 728.5h4M1090 727.5h2M1092 726.5h1M1093 725.5h1M1094 724.5h1M1095 723.5h1M1096 722.5h1M1097 721.5h1M1098 720.5h1M1099 719.5h13M1112 718.5h4" fill="none" stroke="#1e90ff" stroke-width="1"/>
<rect x="0" y="22" width="2" height="790" fill="#fff" />
<rect x="2" y="24" width="1" height="779" fill="#000" />
<rect x="1418" y="24" width="1" height="779" fill="#000" />
<rect x="2" y="24" width="1417" height="1" fill="#000" />
<rect x="2" y="564" width="1417" height="1" fill="#000" />
<rect x="2" y="566" width="1417" height="1" fill="#000" />
<rect x="2" y="670" width="1417" height="1" fill="#000" />
<rect x="2" y="672" width="1417" height="1" fill="#000" />
<rect x="2" y="802" width="1417" height="1" fill="#000" />
<rect x="3" y="565" width="1415" height="1" fill="#fff" />
<rect x="3" y="671" width="1415" height="1" fill="#fff" />
<rect x="1417" y="168" width="3" height="3" fill="#ff0000" />
<rect x="1417" y="257" width="3" height="3" fill="#ff0000" />
<rect x="1417" y="341" width="3" height="3" fill="#00ff00" />
<rect x="1417" y="435" width="3" height="3" fill="#0000ff" />
<rect x="1417" y="554" width="3" height="3" fill="#ff0000" />
<rect x="2" y="433" width="7" height="7" fill="#0000ff" />
<rect x="1412" y="433" width="7" height="7" fill="#0000ff" />
<rect x="5" y="436" width="1" height="1" fill="#fff" />
<rect x="1415" y="436" width="1" height="1" fill="#fff" />
<rect x="2" y="552" width="7" height="7" fill="#ff0000" />
<rect x="1412" y="552" width="7" height="7" fill="#ff0000" />
<rect x="5" y="555" width="1" height="1" fill="#fff" />
<rect x="1415" y="555" width="1" height="1" fill="#fff" />
<rect x="1419" y="33" width="2" height="1" fill="#000" />
<rect x="1419" y="66" width="2" height="1" fill="#000" />
<rect x="1419" y="99" width="2" height="1" fill="#000" />
<rect x="1419" y="132" width="2" height="1" fill="#000" />
<rect x="1419" y="165" width="2" height="1" fill="#000" />
<rect x="1419" y="198" width="2" height="1" fill="#000" />
<rect x="1419" y="231" width="2" height="1" fill="#000" />
<rect x="1419" y="264" width="2" height="1" fill="#000" />
<rect x="1419" y="297" width="2" height="1" fill="#000" />
<rect x="1419" y="330" width="2" height="1" fill="#000" />
<rect x="1419" y="363" width="2" height="1" fill="#000" />
<rect x="1419" y="396" width="2" height="1" fill="#000" />
<rect x="1419" y="429" width="2" height="1" fill="#000" />
<rect x="1419" y="462" width="2" height="1" fill="#000" />
<rect x="1419" y="495" width="2" height="1" fill="#000" />
<rect x="1419" y="528" width="2" height="1" fill="#000" />
<rect x="1419" y="561" width="2" height="1" fill="#000" />
<rect x="1419" y="615" width="2" height="1" fill="#000" />
<rect x="3" y="803" width="1" height="3" fill="#000" />
<rect x="67" y="803" width="1" height="3" fill="#000" />
<rect x="131" y="803" width="1" height="3" fill="#000" />
<rect x="195" y="803" width="1" height="3" fill="#000" />
<rect x="259" y="803" width="1" height="3" fill="#000" />
<rect x="323" y="803" width="1" height="3" fill="#000" />
<rect x="387" y="803" width="1" height="3" fill="#000" />
<rect x="451" y="803" width="1" height="3" fill="#000" />
<rect x="515" y="803" width="1" height="3" fill="#000" />
<rect x="579" y="803" width="1" height="3" fill="#000" />
<rect x="643" y="803" width="1" height="3" fill="#000" />
<rect x="707" y="803" width="1" height="3" fill="#000" />
<rect x="771" y="803" width="1" height="3" fill="#000" />
<rect x="835" y="803" width="1" height="3" fill="#000" />
<rect x="899" y="803" width="1" height="3" fill="#000" />
<rect x="963" y="803" width="1" height="3" fill="#000" />
<rect x="1027" y="803" width="1" height="3" fill="#000" />
<rect x="1091" y="803" width="1" height="3" fill="#000" />
</g>
<path d="M1129 25h9v1h-1v1h-1v1h-1v1h-1v1h-1v-1h-1v-1h-1v-1h-1v-1h-1z" fill="#c0c0c0" shape-rendering="crispEdges"/>
<text x="1424" y="37" font-size="9.9" fill="#000" textLength="33" lengthAdjust="spacingAndGlyphs" stroke="#000" stroke-width="0.22">1.14300</text>
<text x="1424" y="70" font-size="9.9" fill="#000" textLength="33" lengthAdjust="spacingAndGlyphs" stroke="#000" stroke-width="0.22">1.13950</text>
<text x="1424" y="103" font-size="9.9" fill="#000" textLength="33" lengthAdjust="spacingAndGlyphs" stroke="#000" stroke-width="0.22">1.13600</text>
<text x="1424" y="136" font-size="9.9" fill="#000" textLength="33" lengthAdjust="spacingAndGlyphs" stroke="#000" stroke-width="0.22">1.13240</text>
<text x="1424" y="169" font-size="9.9" fill="#000" textLength="33" lengthAdjust="spacingAndGlyphs" stroke="#000" stroke-width="0.22">1.12890</text>
<text x="1424" y="202" font-size="9.9" fill="#000" textLength="33" lengthAdjust="spacingAndGlyphs" stroke="#000" stroke-width="0.22">1.12540</text>
<text x="1424" y="235" font-size="9.9" fill="#000" textLength="33" lengthAdjust="spacingAndGlyphs" stroke="#000" stroke-width="0.22">1.12190</text>
<text x="1424" y="268" font-size="9.9" fill="#000" textLength="33" lengthAdjust="spacingAndGlyphs" stroke="#000" stroke-width="0.22">1.11840</text>
<text x="1424" y="301" font-size="9.9" fill="#000" textLength="33" lengthAdjust="spacingAndGlyphs" stroke="#000" stroke-width="0.22">1.11480</text>
<text x="1424" y="334" font-size="9.9" fill="#000" textLength="33" lengthAdjust="spacingAndGlyphs" stroke="#000" stroke-width="0.22">1.11130</text>
<text x="1424" y="367" font-size="9.9" fill="#000" textLength="33" lengthAdjust="spacingAndGlyphs" stroke="#000" stroke-width="0.22">1.10780</text>
<text x="1424" y="400" font-size="9.9" fill="#000" textLength="33" lengthAdjust="spacingAndGlyphs" stroke="#000" stroke-width="0.22">1.10430</text>
<text x="1424" y="433" font-size="9.9" fill="#000" textLength="33" lengthAdjust="spacingAndGlyphs" stroke="#000" stroke-width="0.22">1.10070</text>
<text x="1424" y="466" font-size="9.9" fill="#000" textLength="33" lengthAdjust="spacingAndGlyphs" stroke="#000" stroke-width="0.22">1.09720</text>
<text x="1424" y="499" font-size="9.9" fill="#000" textLength="33" lengthAdjust="spacingAndGlyphs" stroke="#000" stroke-width="0.22">1.09370</text>
<text x="1424" y="532" font-size="9.9" fill="#000" textLength="33" lengthAdjust="spacingAndGlyphs" stroke="#000" stroke-width="0.22">1.09020</text>
<text x="1424" y="565" font-size="9.9" fill="#000" textLength="33" lengthAdjust="spacingAndGlyphs" stroke="#000" stroke-width="0.22">1.08670</text>
<rect x="1420" y="163" width="40" height="11" fill="#ff0000" shape-rendering="crispEdges"/>
<text x="1424" y="172" font-size="9.9" fill="#fff" textLength="33" lengthAdjust="spacingAndGlyphs" stroke="#fff" stroke-width="0.22">1.12851</text>
<rect x="1420" y="252" width="40" height="11" fill="#ff0000" shape-rendering="crispEdges"/>
<text x="1424" y="261" font-size="9.9" fill="#fff" textLength="33" lengthAdjust="spacingAndGlyphs" stroke="#fff" stroke-width="0.22">1.11901</text>
<rect x="1420" y="285" width="40" height="11" fill="#000" shape-rendering="crispEdges"/>
<text x="1424" y="294" font-size="9.9" fill="#fff" textLength="33" lengthAdjust="spacingAndGlyphs" stroke="#fff" stroke-width="0.22">1.11561</text>
<rect x="1420" y="336" width="40" height="11" fill="#00ff00" shape-rendering="crispEdges"/>
<text x="1424" y="345" font-size="9.9" fill="#fff" textLength="33" lengthAdjust="spacingAndGlyphs" stroke="#fff" stroke-width="0.22">1.11000</text>
<rect x="1420" y="430" width="40" height="11" fill="#0000ff" shape-rendering="crispEdges"/>
<text x="1424" y="439" font-size="9.9" fill="#fff" textLength="33" lengthAdjust="spacingAndGlyphs" stroke="#fff" stroke-width="0.22">1.10003</text>
<rect x="1420" y="549" width="40" height="11" fill="#ff0000" shape-rendering="crispEdges"/>
<text x="1424" y="558" font-size="9.9" fill="#fff" textLength="33" lengthAdjust="spacingAndGlyphs" stroke="#fff" stroke-width="0.22">1.08736</text>
<text x="1422" y="577" font-size="9.9" fill="#000" textLength="38.5" lengthAdjust="spacingAndGlyphs" stroke="#000" stroke-width="0.22">0.004536</text>
<text x="1422" y="619" font-size="9.9" fill="#000" textLength="17.5" lengthAdjust="spacingAndGlyphs" stroke="#000" stroke-width="0.22">0.00</text>
<text x="1422" y="668" font-size="9.9" fill="#000" textLength="42" lengthAdjust="spacingAndGlyphs" stroke="#000" stroke-width="0.22">-0.005205</text>
<text x="1422" y="683" font-size="9.9" fill="#000" textLength="15" lengthAdjust="spacingAndGlyphs" stroke="#000" stroke-width="0.22">100</text>
<text x="1422" y="716" font-size="9.9" fill="#000" textLength="10" lengthAdjust="spacingAndGlyphs" stroke="#000" stroke-width="0.22">70</text>
<text x="1422" y="767" font-size="9.9" fill="#000" textLength="10" lengthAdjust="spacingAndGlyphs" stroke="#000" stroke-width="0.22">30</text>
<text x="1422" y="799" font-size="9.9" fill="#000" textLength="5" lengthAdjust="spacingAndGlyphs" stroke="#000" stroke-width="0.22">0</text>
<text x="7.3" y="579" font-size="9.9" fill="#000" textLength="147.5" lengthAdjust="spacingAndGlyphs" stroke="#000" stroke-width="0.22">MACD(12,26,9) 0.003182 0.003051</text>
<text x="7.3" y="685" font-size="9.9" fill="#000" textLength="67.5" lengthAdjust="spacingAndGlyphs" stroke="#000" stroke-width="0.22">RSI(14) 64.8823</text>
<text x="2.2" y="815" font-size="9.9" fill="#000" textLength="55.199999999999996" lengthAdjust="spacingAndGlyphs" stroke="#000" stroke-width="0.22">23 May 2019</text>
<text x="66.2" y="815" font-size="9.9" fill="#000" textLength="45.099999999999994" lengthAdjust="spacingAndGlyphs" stroke="#000" stroke-width="0.22">2 Jun 2019</text>
<text x="130.2" y="815" font-size="9.9" fill="#000" textLength="50.099999999999994" lengthAdjust="spacingAndGlyphs" stroke="#000" stroke-width="0.22">11 Jun 2019</text>
<text x="194.2" y="815" font-size="9.9" fill="#000" textLength="50.099999999999994" lengthAdjust="spacingAndGlyphs" stroke="#000" stroke-width="0.22">20 Jun 2019</text>
<text x="258.2" y="815" font-size="9.9" fill="#000" textLength="50.5" lengthAdjust="spacingAndGlyphs" stroke="#000" stroke-width="0.22">30 Jun 2019</text>
<text x="322.2" y="815" font-size="9.9" fill="#000" textLength="41.4" lengthAdjust="spacingAndGlyphs" stroke="#000" stroke-width="0.22">9 Jul 2019</text>
<text x="386.2" y="815" font-size="9.9" fill="#000" textLength="46.8" lengthAdjust="spacingAndGlyphs" stroke="#000" stroke-width="0.22">18 Jul 2019</text>
<text x="450.2" y="815" font-size="9.9" fill="#000" textLength="46.8" lengthAdjust="spacingAndGlyphs" stroke="#000" stroke-width="0.22">28 Jul 2019</text>
<text x="514.2" y="815" font-size="9.9" fill="#000" textLength="48.4" lengthAdjust="spacingAndGlyphs" stroke="#000" stroke-width="0.22">6 Aug 2019</text>
<text x="578.2" y="815" font-size="9.9" fill="#000" textLength="52.8" lengthAdjust="spacingAndGlyphs" stroke="#000" stroke-width="0.22">15 Aug 2019</text>
<text x="642.2" y="815" font-size="9.9" fill="#000" textLength="52.8" lengthAdjust="spacingAndGlyphs" stroke="#000" stroke-width="0.22">25 Aug 2019</text>
<text x="706.2" y="815" font-size="9.9" fill="#000" textLength="46.5" lengthAdjust="spacingAndGlyphs" stroke="#000" stroke-width="0.22">3 Sep 2019</text>
<text x="770.2" y="815" font-size="9.9" fill="#000" textLength="51.099999999999994" lengthAdjust="spacingAndGlyphs" stroke="#000" stroke-width="0.22">12 Sep 2019</text>
<text x="834.2" y="815" font-size="9.9" fill="#000" textLength="52.099999999999994" lengthAdjust="spacingAndGlyphs" stroke="#000" stroke-width="0.22">22 Sep 2019</text>
<text x="898.2" y="815" font-size="9.9" fill="#000" textLength="45.3" lengthAdjust="spacingAndGlyphs" stroke="#000" stroke-width="0.22">1 Oct 2019</text>
<text x="962.2" y="815" font-size="9.9" fill="#000" textLength="50.5" lengthAdjust="spacingAndGlyphs" stroke="#000" stroke-width="0.22">10 Oct 2019</text>
<text x="1026.2" y="815" font-size="9.9" fill="#000" textLength="50.5" lengthAdjust="spacingAndGlyphs" stroke="#000" stroke-width="0.22">20 Oct 2019</text>
<text x="1090.2" y="815" font-size="9.9" fill="#000" textLength="50.099999999999994" lengthAdjust="spacingAndGlyphs" stroke="#000" stroke-width="0.22">29 Oct 2019</text>
<polygon points="6,35 13,35 9.5,31" fill="#000"/>
<text x="18.2" y="36" font-size="9.9" fill="#000" textLength="67" lengthAdjust="spacingAndGlyphs" stroke="#000" stroke-width="0.22">EURUSD-,Daily</text>
<text x="91.3" y="36" font-size="9.9" fill="#000" textLength="32.5" lengthAdjust="spacingAndGlyphs" stroke="#000" stroke-width="0.22">1.11546</text>
<text x="127.44999999999999" y="36" font-size="9.9" fill="#000" textLength="32.5" lengthAdjust="spacingAndGlyphs" stroke="#000" stroke-width="0.22">1.11569</text>
<text x="163.6" y="36" font-size="9.9" fill="#000" textLength="32.5" lengthAdjust="spacingAndGlyphs" stroke="#000" stroke-width="0.22">1.11479</text>
<text x="199.75" y="36" font-size="9.9" fill="#000" textLength="32.5" lengthAdjust="spacingAndGlyphs" stroke="#000" stroke-width="0.22">1.11561</text>
<rect x="4" y="42" width="223" height="68" fill="#fff" />
<g shape-rendering="crispEdges">
<rect x="6" y="44" width="52" height="25" fill="#c00a0a" />
<rect x="7" y="45" width="50" height="24" fill="url(#gTop)" />
<rect x="6" y="68" width="109" height="40" fill="#b80808" />
<rect x="7" y="69" width="107" height="38" fill="url(#gBot)" />
<rect x="7" y="68" width="50" height="1" fill="#e23232" />
<rect x="173" y="44" width="52" height="25" fill="#c00a0a" />
<rect x="174" y="45" width="50" height="24" fill="url(#gTop)" />
<rect x="117" y="68" width="108" height="40" fill="#b80808" />
<rect x="118" y="69" width="106" height="38" fill="url(#gBot)" />
<rect x="174" y="68" width="50" height="1" fill="#e23232" />
<rect x="10" y="67" width="44" height="1" fill="#a00000" />
<rect x="10" y="68" width="44" height="1" fill="#ee6a6a" />
<rect x="177" y="67" width="44" height="1" fill="#a00000" />
<rect x="177" y="68" width="44" height="1" fill="#ee6a6a" />
<rect x="60" y="44" width="111" height="22" fill="#a4a4b0" />
<rect x="61" y="45" width="109" height="20" fill="#fff" />
<rect x="62" y="46" width="18" height="18" fill="url(#gBtn)" />
<rect x="81" y="45" width="1" height="20" fill="#a4a4b0" />
<rect x="151" y="46" width="18" height="18" fill="url(#gBtn)" />
<rect x="149" y="45" width="1" height="20" fill="#a4a4b0" />
</g>
<polygon points="68,53 74.4,53 71.2,56.4" fill="#4660c4"/>
<polygon points="156,56.4 162.4,56.4 159.2,53" fill="#4660c4"/>
<text x="146.6" y="58.9" font-size="12.8" fill="#000" text-anchor="end" textLength="24" lengthAdjust="spacingAndGlyphs" >1.00</text>
<text x="17.8" y="60" font-size="12.6" fill="#fff" textLength="26.5" lengthAdjust="spacingAndGlyphs" >SELL</text>
<text x="186" y="60" font-size="12.6" fill="#fff" textLength="24" lengthAdjust="spacingAndGlyphs" >BUY</text>
<text x="25.6" y="98.8" font-size="12.4" fill="#fff" textLength="24.6" lengthAdjust="spacingAndGlyphs" font-weight="bold" >1.11</text>
<text x="135.9" y="98.8" font-size="12.4" fill="#fff" textLength="24.6" lengthAdjust="spacingAndGlyphs" font-weight="bold" >1.11</text>
<text x="54" y="99" font-size="34.3" fill="#fff" textLength="34.5" lengthAdjust="spacingAndGlyphs" stroke="url(#gBot)" stroke-width="0.5" paint-order="fill">56</text>
<text x="165" y="99" font-size="34.3" fill="#fff" textLength="34.5" lengthAdjust="spacingAndGlyphs" stroke="url(#gBot)" stroke-width="0.5" paint-order="fill">58</text>
<text x="92.6" y="83" font-size="12.4" fill="#fff" font-weight="bold" >1</text>
<text x="203.4" y="83" font-size="12.4" fill="#fff" textLength="7.6" lengthAdjust="spacingAndGlyphs" font-weight="bold" >0</text>
<g shape-rendering="crispEdges">
<rect x="0" y="823" width="1460" height="1" fill="#e6e6e6" />
<rect x="0" y="824" width="1460" height="1" fill="#fff" />
<rect x="0" y="825" width="1460" height="1" fill="#000" />
<rect x="0" y="826" width="1460" height="1" fill="#fafafa" />
<rect x="0" y="827" width="1460" height="20" fill="#f0f0f0" />
<rect x="0" y="845" width="1460" height="1" fill="#fcfcfc" />
<rect x="5" y="825" width="106" height="18" fill="#fff" />
<rect x="4" y="844" width="108" height="1" fill="#fff" />
<rect x="3" y="826" width="1" height="18" fill="#fafafa" />
<rect x="4" y="825" width="1" height="19" fill="#000" />
<rect x="111" y="825" width="1" height="19" fill="#000" />
<rect x="4" y="843" width="108" height="1" fill="#000" />
<rect x="219" y="828" width="3" height="14" fill="#f8f8f8" />
<rect x="220" y="828" width="1" height="14" fill="#5a5a5a" />
<rect x="327" y="828" width="3" height="14" fill="#f8f8f8" />
<rect x="328" y="828" width="1" height="14" fill="#5a5a5a" />
<rect x="436" y="828" width="3" height="14" fill="#f8f8f8" />
<rect x="437" y="828" width="1" height="14" fill="#5a5a5a" />
<rect x="547" y="828" width="3" height="14" fill="#f8f8f8" />
<rect x="548" y="828" width="1" height="14" fill="#5a5a5a" />
<rect x="667" y="828" width="3" height="14" fill="#f8f8f8" />
<rect x="668" y="828" width="1" height="14" fill="#5a5a5a" />
<rect x="791" y="828" width="3" height="14" fill="#f8f8f8" />
<rect x="792" y="828" width="1" height="14" fill="#5a5a5a" />
<rect x="887" y="828" width="3" height="14" fill="#f8f8f8" />
<rect x="888" y="828" width="1" height="14" fill="#5a5a5a" />
<rect x="967" y="828" width="3" height="14" fill="#f8f8f8" />
<rect x="968" y="828" width="1" height="14" fill="#5a5a5a" />
<rect x="1071" y="828" width="3" height="14" fill="#f8f8f8" />
<rect x="1072" y="828" width="1" height="14" fill="#5a5a5a" />
<rect x="1163" y="828" width="3" height="14" fill="#f8f8f8" />
<rect x="1164" y="828" width="1" height="14" fill="#5a5a5a" />
<rect x="1244" y="828" width="3" height="14" fill="#f8f8f8" />
<rect x="1245" y="828" width="1" height="14" fill="#5a5a5a" />
</g>
<text x="15.3" y="840" font-size="13" fill="#000" textLength="84.6" lengthAdjust="spacingAndGlyphs" >EURUSD-,Daily</text>
<text x="122.0" y="840" font-size="13" fill="#707070" textLength="87" lengthAdjust="spacingAndGlyphs" >AUDUSD-,Daily</text>
<text x="231.7" y="840" font-size="13" fill="#707070" textLength="84.6" lengthAdjust="spacingAndGlyphs" >USDCHF-,Daily</text>
<text x="339.3" y="840" font-size="13" fill="#707070" textLength="86.5" lengthAdjust="spacingAndGlyphs" >USDCAD-,Daily</text>
<text x="447.9" y="840" font-size="13" fill="#707070" textLength="88.8" lengthAdjust="spacingAndGlyphs" >USDCNH-,Daily</text>
<text x="558.7" y="840" font-size="13" fill="#707070" textLength="98.4" lengthAdjust="spacingAndGlyphs" >EURCHF-,Weekly</text>
<text x="679.9" y="840" font-size="13" fill="#707070" textLength="100.6" lengthAdjust="spacingAndGlyphs" >XAUUSD-,Weekly</text>
<text x="802.5" y="840" font-size="13" fill="#707070" textLength="73.5" lengthAdjust="spacingAndGlyphs" >GBPUSD-,H1</text>
<text x="899.0" y="840" font-size="13" fill="#707070" textLength="57.5" lengthAdjust="spacingAndGlyphs" >UKOil-,H1</text>
<text x="977.9" y="840" font-size="13" fill="#707070" textLength="83.9" lengthAdjust="spacingAndGlyphs" >USDX-,Weekly</text>
<text x="1082.0" y="840" font-size="13" fill="#707070" textLength="71.1" lengthAdjust="spacingAndGlyphs" >EURCHF-,H1</text>
<text x="1175.9" y="840" font-size="13" fill="#707070" textLength="56.4" lengthAdjust="spacingAndGlyphs" >USOil-,H1</text>
<polygon points="1437.3,830.8 1437.3,837.2 1434,834" fill="#8c8c8c"/><polygon points="1452.8,830.8 1452.8,837.2 1456.1,834" fill="#8c8c8c"/>
</svg>
</body></html>
